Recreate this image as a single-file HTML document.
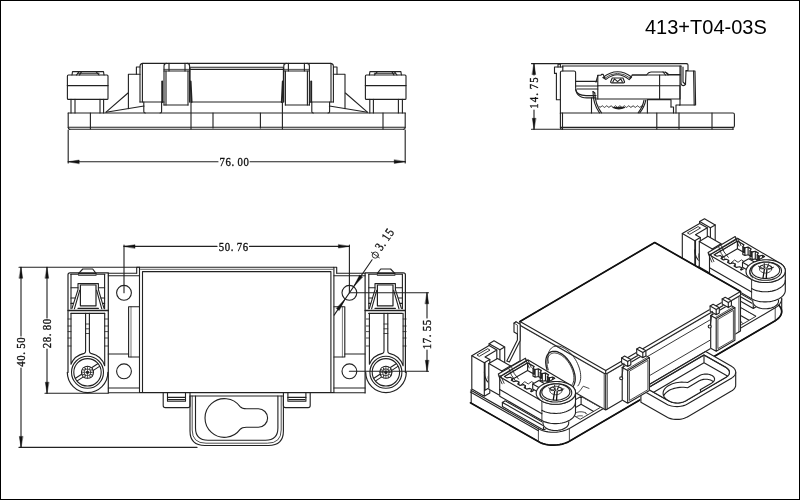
<!DOCTYPE html>
<html><head><meta charset="utf-8"><title>413+T04-03S</title>
<style>
html,body{margin:0;padding:0;background:#fff;}
body{width:800px;height:500px;overflow:hidden;position:relative;font-family:"Liberation Sans",sans-serif;}
.frame{position:absolute;left:0;top:0;width:798px;height:498px;border:1px solid #000;}
.title{position:absolute;left:645px;top:15.5px;font-size:20px;line-height:23px;color:#000;white-space:nowrap;}
svg{position:absolute;left:0;top:0;will-change:transform;}
svg *{vector-effect:none;}
.d{font-family:"Liberation Serif",serif;font-size:12.8px;fill:#111;stroke:#111;stroke-width:0.35;}
</style></head><body>
<svg width="800" height="500" viewBox="0 0 800 500" fill="none" stroke="#222" stroke-width="1.12" stroke-linecap="round" stroke-linejoin="round">
<g id="front">
<line x1="68.2" y1="113.0" x2="405.2" y2="113.0"/>
<line x1="68.2" y1="127.2" x2="405.2" y2="127.2"/>
<line x1="69.5" y1="129.2" x2="403.9" y2="129.2"/>
<line x1="143.0" y1="63.4" x2="330.4" y2="63.4"/>
<line x1="190.0" y1="67.2" x2="283.4" y2="67.2"/>
<line x1="190.0" y1="69.4" x2="283.4" y2="69.4"/>
<line x1="192.0" y1="102.0" x2="281.4" y2="102.0"/>
<path d="M68.2,113 V127.5 Q68.2,129.2 69.8,129.2"/>
<line x1="90.4" y1="113.0" x2="90.4" y2="129.0"/>
<line x1="191.0" y1="102.0" x2="191.0" y2="129.0"/>
<line x1="213.0" y1="113.0" x2="213.0" y2="128.0"/>
<rect x="67.4" y="75.0" width="40.6" height="24.4" rx="1"/>
<line x1="67.4" y1="85.6" x2="108.0" y2="85.6" stroke-width="1.4"/>
<polyline points="72.0,75.0 72.5,71.6 103.5,71.6 104.0,75.0"/>
<line x1="78.0" y1="73.2" x2="99.0" y2="73.2"/>
<line x1="76.5" y1="75.0" x2="79.0" y2="71.6"/>
<line x1="79.5" y1="75.0" x2="81.5" y2="71.6"/>
<line x1="96.0" y1="71.6" x2="99.0" y2="75.0"/>
<line x1="71.0" y1="99.4" x2="71.0" y2="113.0"/>
<line x1="75.0" y1="99.4" x2="75.0" y2="113.0"/>
<line x1="100.0" y1="99.4" x2="100.0" y2="113.0"/>
<line x1="103.6" y1="99.4" x2="103.6" y2="113.0"/>
<line x1="106.0" y1="112.2" x2="128.0" y2="93.0"/>
<line x1="106.0" y1="112.2" x2="144.0" y2="106.0"/>
<polyline points="128.4,108.6 128.4,74.2 140.0,74.2"/>
<polyline points="140.0,67.0 136.4,67.0 136.4,74.2"/>
<path d="M140.0,102 V66.5 Q140.0,63.4 143.0,63.4"/>
<line x1="142.4" y1="64.4" x2="142.4" y2="102.0"/>
<line x1="140.0" y1="102.0" x2="164.0" y2="102.0"/>
<path d="M143.8,102 V111.5 Q143.8,113 145.3,113 M161.6,102 V111.5 Q161.6,113 160.1,113"/>
<path d="M164.0,105 V66 Q164.0,63.4 166.5,63.4 M189.6,102 V66 Q189.6,63.4 187.0,63.4"/>
<line x1="164.0" y1="71.0" x2="189.6" y2="71.0"/>
<line x1="164.0" y1="69.4" x2="189.6" y2="69.4" stroke-width="0.8"/>
<line x1="166.0" y1="71.0" x2="166.0" y2="105.0"/>
<line x1="188.0" y1="71.0" x2="188.0" y2="105.0"/>
<line x1="164.0" y1="105.0" x2="188.0" y2="105.0"/>
<line x1="169.0" y1="63.4" x2="169.0" y2="71.0"/>
<line x1="185.0" y1="63.4" x2="185.0" y2="71.0"/>
<line x1="162.2" y1="81.4" x2="162.2" y2="102.0" stroke-width="1.9"/>
<polyline points="190.6,81.4 191.6,102.0" stroke-width="1.9"/>
<line x1="190.0" y1="68.0" x2="190.0" y2="102.0"/>
<path d="M405.2,113 V127.5 Q405.2,129.2 403.6,129.2"/>
<line x1="383.0" y1="113.0" x2="383.0" y2="129.0"/>
<line x1="282.4" y1="102.0" x2="282.4" y2="129.0"/>
<line x1="260.4" y1="113.0" x2="260.4" y2="128.0"/>
<rect x="365.4" y="75.0" width="40.6" height="24.4" rx="1"/>
<line x1="406.0" y1="85.6" x2="365.4" y2="85.6" stroke-width="1.4"/>
<polyline points="401.4,75.0 400.9,71.6 369.9,71.6 369.4,75.0"/>
<line x1="395.4" y1="73.2" x2="374.4" y2="73.2"/>
<line x1="396.9" y1="75.0" x2="394.4" y2="71.6"/>
<line x1="393.9" y1="75.0" x2="391.9" y2="71.6"/>
<line x1="377.4" y1="71.6" x2="374.4" y2="75.0"/>
<line x1="402.4" y1="99.4" x2="402.4" y2="113.0"/>
<line x1="398.4" y1="99.4" x2="398.4" y2="113.0"/>
<line x1="373.4" y1="99.4" x2="373.4" y2="113.0"/>
<line x1="369.8" y1="99.4" x2="369.8" y2="113.0"/>
<line x1="367.4" y1="112.2" x2="345.4" y2="93.0"/>
<line x1="367.4" y1="112.2" x2="329.4" y2="106.0"/>
<polyline points="345.0,108.6 345.0,74.2 333.4,74.2"/>
<polyline points="333.4,67.0 337.0,67.0 337.0,74.2"/>
<path d="M333.4,102 V66.5 Q333.4,63.4 330.4,63.4"/>
<line x1="331.0" y1="64.4" x2="331.0" y2="102.0"/>
<line x1="333.4" y1="102.0" x2="309.4" y2="102.0"/>
<path d="M329.6,102 V111.5 Q329.6,113 328.1,113 M311.8,102 V111.5 Q311.8,113 313.3,113"/>
<path d="M309.4,105 V66 Q309.4,63.4 306.9,63.4 M283.8,102 V66 Q283.8,63.4 286.4,63.4"/>
<line x1="309.4" y1="71.0" x2="283.8" y2="71.0"/>
<line x1="309.4" y1="69.4" x2="283.8" y2="69.4" stroke-width="0.8"/>
<line x1="307.4" y1="71.0" x2="307.4" y2="105.0"/>
<line x1="285.4" y1="71.0" x2="285.4" y2="105.0"/>
<line x1="309.4" y1="105.0" x2="285.4" y2="105.0"/>
<line x1="304.4" y1="63.4" x2="304.4" y2="71.0"/>
<line x1="288.4" y1="63.4" x2="288.4" y2="71.0"/>
<line x1="311.2" y1="81.4" x2="311.2" y2="102.0" stroke-width="1.9"/>
<polyline points="282.8,81.4 281.8,102.0" stroke-width="1.9"/>
<line x1="283.4" y1="68.0" x2="283.4" y2="102.0"/>
<line x1="68.2" y1="130.0" x2="68.2" y2="163.0"/>
<line x1="405.2" y1="130.0" x2="405.2" y2="163.0"/>
<line x1="68.2" y1="161.7" x2="218.0" y2="161.7"/>
<line x1="250.0" y1="161.7" x2="405.2" y2="161.7"/>
<polygon points="68.2,161.7 79.2,160.0 79.2,163.4" fill="#111" stroke="#111" stroke-width="0.4"/>
<polygon points="405.2,161.7 394.2,163.4 394.2,160.0" fill="#111" stroke="#111" stroke-width="0.4"/>
<text class="d" transform="translate(219.4,166.0) scale(0.84,1)" x="0.00 7.14 14.29 21.43 28.57" y="0">76.00</text>
</g>
<g id="side">
<line x1="559.0" y1="63.6" x2="686.5" y2="63.6"/>
<line x1="562.5" y1="66.0" x2="681.0" y2="66.0"/>
<polyline points="558.0,67.0 558.0,64.3 560.4,64.3 560.4,67.0"/>
<polyline points="562.8,67.0 554.5,67.0 554.5,73.4 556.4,73.4"/>
<line x1="562.8" y1="66.0" x2="562.8" y2="71.0"/>
<polyline points="556.4,73.4 556.4,99.8 560.4,99.8"/>
<path d="M560.4,113.2 V72.5 Q560.4,71 562,71 H574 Q575.6,71 575.6,72.5 V87 Q575.6,97.9 587,97.9 H596"/>
<path d="M575.6,89.5 Q577,95.5 586,95.6 H596"/>
<line x1="575.6" y1="81.4" x2="597.0" y2="81.4"/>
<line x1="575.6" y1="86.0" x2="597.8" y2="86.0"/>
<line x1="577.0" y1="89.0" x2="597.8" y2="89.0"/>
<path d="M596,82.2 L597,78.5 L598,75.2 H601 L601.6,74.4 L603.2,74.4 L604.8,78 M630,78 L632.5,75 H646.5 Q648.5,72 651,72 H663 Q667,72 668.5,74.5 H680"/>
<line x1="597.8" y1="75.2" x2="597.8" y2="99.0"/>
<path d="M602.8,77.6 Q617.2,66.2 631.6,77 L629.2,79.6 Q617.4,70 606,79.4 Z"/>
<path d="M604.4,78.4 Q617.3,68.2 630.4,78.2" stroke-width="0.8"/>
<path d="M610.6,82 L612.2,78 H623 L624.6,82 Q624.6,82.9 623.6,82.9 H611.6 Q610.6,82.9 610.6,82 Z"/>
<polyline points="612.8,82.0 614.5,78.8 617.6,81.6 620.7,78.8 622.4,82.0"/>
<line x1="597.8" y1="85.8" x2="680.0" y2="85.8"/>
<line x1="596.4" y1="99.0" x2="659.6" y2="99.0"/>
<line x1="659.6" y1="75.0" x2="659.6" y2="99.0"/>
<line x1="632.0" y1="75.0" x2="680.0" y2="75.0"/>
<polyline points="680.0,66.0 680.0,99.0 659.6,99.0"/>
<line x1="663.0" y1="72.0" x2="665.5" y2="75.0"/>
<line x1="665.5" y1="72.0" x2="668.0" y2="75.0"/>
<path d="M593,91.5 Q593,104 599.5,112.8"/>
<path d="M594.8,93 Q595,104 601.5,112.8"/>
<path d="M593,91.5 L594.8,93"/>
<path d="M645.8,100.2 Q644.5,107 639.8,112.8"/>
<path d="M644,100.2 Q642.8,107 638.2,112.8"/>
<path d="M599,106.6 q1.1,1.6 2.2,0 q1.1,-1.6 2.2,0 q1.1,1.6 2.2,0 q1.1,-1.6 2.2,0 q1.1,1.6 2.2,0 q1.1,-1.6 2.2,0 q1.1,1.6 2.2,0 q1.1,-1.6 2.2,0 q1.1,1.6 2.2,0 q1.1,-1.6 2.2,0 q1.1,1.6 2.2,0 q1.1,-1.6 2.2,0 q1.1,1.6 2.2,0 q1.1,-1.6 2.2,0 q1.1,1.6 2.2,0 q1.1,-1.6 2.2,0 q1.1,1.6 2.2,0 q1.1,-1.6 2.2,0 q1.1,1.6 2.2,0 q1.1,-1.6 2.2,0" stroke-width="0.9"/>
<path d="M613,107.6 Q618.8,110.4 624.6,107.6 Z" fill="#222"/>
<polyline points="647.4,113.0 647.4,99.6 671.0,99.6 671.0,107.0"/>
<polyline points="676.0,113.0 676.0,105.0 679.5,105.0"/>
<polyline points="671.0,107.0 673.5,107.0 673.5,113.0"/>
<path d="M686.5,63.6 Q688,63.6 688,65 V70.5 H686"/>
<polyline points="681.0,66.0 681.0,84.0"/>
<polyline points="683.0,67.0 683.0,82.0 685.5,84.5 686.0,71.0"/>
<path d="M681,84 Q682,86 684,85.5 L685.5,84.5"/>
<polyline points="686.0,71.0 695.0,71.0 695.6,105.0 679.5,105.0"/>
<line x1="693.6" y1="71.0" x2="694.2" y2="105.0"/>
<line x1="680.0" y1="86.0" x2="680.0" y2="105.0"/>
<path d="M560.4,113 H733 Q734.4,113 734.4,114.5 V126 Q734.4,127.4 733,127.4 H560.4"/>
<line x1="562.5" y1="129.3" x2="733.0" y2="129.3"/>
<path d="M560.4,113 V127.5 Q560.4,129.3 562.5,129.3"/>
<line x1="562.5" y1="113.0" x2="562.5" y2="129.0"/>
<line x1="591.5" y1="97.9" x2="591.5" y2="113.0"/>
<line x1="733.0" y1="127.4" x2="733.0" y2="129.3"/>
<line x1="656.8" y1="113.0" x2="656.8" y2="129.0"/>
<line x1="679.0" y1="113.0" x2="679.0" y2="129.0"/>
<line x1="712.0" y1="113.0" x2="712.0" y2="129.0"/>
<line x1="531.5" y1="63.6" x2="559.0" y2="63.6"/>
<line x1="531.5" y1="129.3" x2="561.0" y2="129.3"/>
<line x1="534.0" y1="63.6" x2="534.0" y2="75.0"/>
<line x1="534.0" y1="110.0" x2="534.0" y2="129.3"/>
<polygon points="534.0,63.6 535.7,74.6 532.3,74.6" fill="#111" stroke="#111" stroke-width="0.4"/>
<polygon points="534.0,129.3 532.3,118.3 535.7,118.3" fill="#111" stroke="#111" stroke-width="0.4"/>
<text class="d" transform="translate(538.0,108.8) rotate(-90) scale(0.84,1)" x="0.00 7.74 15.48 23.21 30.95" y="0">14.75</text>
</g>
<g id="plan">
<polyline points="139.5,392.5 139.5,267.3 333.9,267.3 333.9,392.5"/>
<polyline points="142.5,392.5 142.5,271.6 330.9,271.6 330.9,392.5"/>
<line x1="140.5" y1="269.3" x2="332.9" y2="269.3" stroke-width="0.7"/>
<line x1="139.5" y1="392.5" x2="333.9" y2="392.5"/>
<line x1="108.5" y1="392.8" x2="364.9" y2="392.8"/>
<polyline points="136.7,273.0 136.7,267.3 139.5,267.3"/>
<line x1="108.3" y1="273.2" x2="136.7" y2="273.2"/>
<line x1="108.3" y1="275.8" x2="139.5" y2="275.8"/>
<line x1="108.3" y1="354.0" x2="128.6" y2="354.0"/>
<line x1="108.3" y1="388.0" x2="139.5" y2="388.0"/>
<polyline points="139.5,306.8 128.6,306.8 128.6,357.0 139.5,357.0"/>
<line x1="131.0" y1="306.8" x2="131.0" y2="357.0" stroke-width="0.6"/>
<circle cx="124.0" cy="292.8" r="7.4"/>
<circle cx="124.0" cy="371.3" r="7.4"/>
<path d="M108.3,393 V272.8 H70.0 Q68.0,272.8 68.0,274.8 V372.5" stroke-width="1.2"/>
<polyline points="71.0,274.2 71.0,308.8"/>
<polyline points="104.6,274.2 104.6,308.8"/>
<line x1="71.0" y1="274.2" x2="78.6" y2="274.2"/>
<line x1="96.0" y1="274.2" x2="104.6" y2="274.2"/>
<polyline points="78.6,273.4 82.8,269.0 92.7,269.0 96.0,273.4"/>
<line x1="78.6" y1="273.6" x2="96.0" y2="273.6" stroke-width="1.3"/>
<line x1="78.6" y1="275.2" x2="96.0" y2="275.2"/>
<polyline points="72.0,308.4 78.0,289.6 78.0,283.6 98.4,283.6 98.4,289.6 104.0,308.4"/>
<polyline points="80.4,305.8 80.4,285.0 96.0,285.0 96.0,305.8 80.4,305.8" stroke-width="1.2"/>
<line x1="71.0" y1="287.8" x2="78.0" y2="287.8"/>
<line x1="98.4" y1="287.8" x2="104.6" y2="287.8"/>
<line x1="79.8" y1="290.2" x2="74.4" y2="308.8"/>
<line x1="96.6" y1="290.2" x2="101.8" y2="308.8"/>
<line x1="71.0" y1="298.0" x2="75.0" y2="298.0"/>
<line x1="71.0" y1="303.4" x2="73.4" y2="303.4"/>
<line x1="104.6" y1="298.0" x2="101.0" y2="298.0"/>
<line x1="104.6" y1="303.4" x2="103.0" y2="303.4"/>
<line x1="78.0" y1="308.4" x2="98.4" y2="308.4"/>
<line x1="68.0" y1="310.5" x2="108.3" y2="310.5" stroke-width="1.3"/>
<line x1="71.0" y1="313.4" x2="104.7" y2="313.4"/>
<polyline points="336.7,273.0 336.7,267.3 333.9,267.3"/>
<line x1="365.1" y1="273.2" x2="336.7" y2="273.2"/>
<line x1="365.1" y1="275.8" x2="333.9" y2="275.8"/>
<line x1="365.1" y1="354.0" x2="344.8" y2="354.0"/>
<line x1="365.1" y1="388.0" x2="333.9" y2="388.0"/>
<polyline points="333.9,306.8 344.8,306.8 344.8,357.0 333.9,357.0"/>
<line x1="342.4" y1="306.8" x2="342.4" y2="357.0" stroke-width="0.6"/>
<circle cx="349.4" cy="292.8" r="7.4"/>
<circle cx="349.4" cy="371.3" r="7.4"/>
<path d="M365.1,393 V272.8 H403.4 Q405.4,272.8 405.4,274.8 V372.5" stroke-width="1.2"/>
<polyline points="402.4,274.2 402.4,308.8"/>
<polyline points="368.8,274.2 368.8,308.8"/>
<line x1="402.4" y1="274.2" x2="394.8" y2="274.2"/>
<line x1="377.4" y1="274.2" x2="368.8" y2="274.2"/>
<polyline points="394.8,273.4 390.6,269.0 380.7,269.0 377.4,273.4"/>
<line x1="394.8" y1="273.6" x2="377.4" y2="273.6" stroke-width="1.3"/>
<line x1="394.8" y1="275.2" x2="377.4" y2="275.2"/>
<polyline points="401.4,308.4 395.4,289.6 395.4,283.6 375.0,283.6 375.0,289.6 369.4,308.4"/>
<polyline points="393.0,305.8 393.0,285.0 377.4,285.0 377.4,305.8 393.0,305.8" stroke-width="1.2"/>
<line x1="402.4" y1="287.8" x2="395.4" y2="287.8"/>
<line x1="375.0" y1="287.8" x2="368.8" y2="287.8"/>
<line x1="393.6" y1="290.2" x2="399.0" y2="308.8"/>
<line x1="376.8" y1="290.2" x2="371.6" y2="308.8"/>
<line x1="402.4" y1="298.0" x2="398.4" y2="298.0"/>
<line x1="402.4" y1="303.4" x2="400.0" y2="303.4"/>
<line x1="368.8" y1="298.0" x2="372.4" y2="298.0"/>
<line x1="368.8" y1="303.4" x2="370.4" y2="303.4"/>
<line x1="395.4" y1="308.4" x2="375.0" y2="308.4"/>
<line x1="405.4" y1="310.5" x2="365.1" y2="310.5" stroke-width="1.3"/>
<line x1="402.4" y1="313.4" x2="368.7" y2="313.4"/>
<path d="M67.3,372.3 A20.2,20.2 0 0 0 107.9,372.3" stroke-width="1.2"/>
<path d="M71.0,313.4 V364.2 A18.4,18.4 0 0 1 84.1,353.4 Q85.6,353.0 85.6,351.0 V313.4"/>
<path d="M104.7,313.4 V365.8 A18.4,18.4 0 0 0 90.9,353.4 Q89.4,353.0 89.4,351.0 V313.4"/>
<line x1="68.0" y1="319.0" x2="71.0" y2="319.0" stroke-width="0.8"/>
<line x1="104.7" y1="319.0" x2="107.8" y2="319.0" stroke-width="0.8"/>
<line x1="68.0" y1="326.0" x2="71.0" y2="326.0" stroke-width="0.8"/>
<line x1="104.7" y1="326.0" x2="107.8" y2="326.0" stroke-width="0.8"/>
<line x1="68.0" y1="331.6" x2="71.0" y2="331.6" stroke-width="0.8"/>
<line x1="104.7" y1="331.6" x2="107.8" y2="331.6" stroke-width="0.8"/>
<line x1="68.0" y1="338.0" x2="71.0" y2="338.0" stroke-width="0.8"/>
<line x1="104.7" y1="338.0" x2="107.8" y2="338.0" stroke-width="0.8"/>
<line x1="68.0" y1="346.0" x2="71.0" y2="346.0" stroke-width="0.8"/>
<line x1="104.7" y1="346.0" x2="107.8" y2="346.0" stroke-width="0.8"/>
<line x1="85.6" y1="324.0" x2="89.4" y2="324.0" stroke-width="0.8"/>
<line x1="85.6" y1="328.8" x2="89.4" y2="328.8" stroke-width="0.8"/>
<line x1="85.6" y1="333.5" x2="89.4" y2="333.5" stroke-width="0.8"/>
<circle cx="87.5" cy="372.3" r="16.0" stroke-width="1.1"/>
<circle cx="87.5" cy="372.3" r="13.7"/>
<line x1="93.0" y1="370.6" x2="99.5" y2="366.4"/>
<line x1="91.2" y1="368.0" x2="97.8" y2="363.7"/>
<line x1="83.8" y1="376.6" x2="77.2" y2="380.9"/>
<line x1="82.0" y1="374.0" x2="75.5" y2="378.2"/>
<circle cx="87.5" cy="372.3" r="6.0"/>
<circle cx="87.5" cy="372.3" r="3.4" stroke-width="0.8"/>
<circle cx="91.0" cy="375.8" r="1.4" fill="#fff" stroke-width="0.8"/>
<circle cx="84.0" cy="375.8" r="1.4" fill="#fff" stroke-width="0.8"/>
<circle cx="84.0" cy="368.8" r="1.4" fill="#fff" stroke-width="0.8"/>
<circle cx="91.0" cy="368.8" r="1.4" fill="#fff" stroke-width="0.8"/>
<line x1="81.5" y1="372.3" x2="93.5" y2="372.3" stroke-width="0.7"/>
<line x1="87.5" y1="366.3" x2="87.5" y2="378.3" stroke-width="0.7"/>
<circle cx="87.5" cy="372.3" r="1.1" fill="#222"/>
<path d="M365.7,372.3 A20.2,20.2 0 0 0 406.3,372.3" stroke-width="1.2"/>
<path d="M369.4,313.4 V364.2 A18.4,18.4 0 0 1 382.5,353.4 Q384.0,353.0 384.0,351.0 V313.4"/>
<path d="M403.1,313.4 V365.8 A18.4,18.4 0 0 0 389.3,353.4 Q387.8,353.0 387.8,351.0 V313.4"/>
<line x1="366.4" y1="319.0" x2="369.4" y2="319.0" stroke-width="0.8"/>
<line x1="403.1" y1="319.0" x2="406.2" y2="319.0" stroke-width="0.8"/>
<line x1="366.4" y1="326.0" x2="369.4" y2="326.0" stroke-width="0.8"/>
<line x1="403.1" y1="326.0" x2="406.2" y2="326.0" stroke-width="0.8"/>
<line x1="366.4" y1="331.6" x2="369.4" y2="331.6" stroke-width="0.8"/>
<line x1="403.1" y1="331.6" x2="406.2" y2="331.6" stroke-width="0.8"/>
<line x1="366.4" y1="338.0" x2="369.4" y2="338.0" stroke-width="0.8"/>
<line x1="403.1" y1="338.0" x2="406.2" y2="338.0" stroke-width="0.8"/>
<line x1="366.4" y1="346.0" x2="369.4" y2="346.0" stroke-width="0.8"/>
<line x1="403.1" y1="346.0" x2="406.2" y2="346.0" stroke-width="0.8"/>
<line x1="384.0" y1="324.0" x2="387.8" y2="324.0" stroke-width="0.8"/>
<line x1="384.0" y1="328.8" x2="387.8" y2="328.8" stroke-width="0.8"/>
<line x1="384.0" y1="333.5" x2="387.8" y2="333.5" stroke-width="0.8"/>
<circle cx="385.9" cy="372.3" r="16.0" stroke-width="1.1"/>
<circle cx="385.9" cy="372.3" r="13.7"/>
<line x1="391.4" y1="370.6" x2="397.9" y2="366.4"/>
<line x1="389.6" y1="368.0" x2="396.2" y2="363.7"/>
<line x1="382.2" y1="376.6" x2="375.6" y2="380.9"/>
<line x1="380.4" y1="374.0" x2="373.9" y2="378.2"/>
<circle cx="385.9" cy="372.3" r="6.0"/>
<circle cx="385.9" cy="372.3" r="3.4" stroke-width="0.8"/>
<circle cx="389.4" cy="375.8" r="1.4" fill="#fff" stroke-width="0.8"/>
<circle cx="382.4" cy="375.8" r="1.4" fill="#fff" stroke-width="0.8"/>
<circle cx="382.4" cy="368.8" r="1.4" fill="#fff" stroke-width="0.8"/>
<circle cx="389.4" cy="368.8" r="1.4" fill="#fff" stroke-width="0.8"/>
<line x1="379.9" y1="372.3" x2="391.9" y2="372.3" stroke-width="0.7"/>
<line x1="385.9" y1="366.3" x2="385.9" y2="378.3" stroke-width="0.7"/>
<circle cx="385.9" cy="372.3" r="1.1" fill="#222"/>
<path d="M163.2,392.8 V405.5 Q163.2,407.6 165.3,407.6 H188.0 Q190.0,407.6 190.0,405.5 V392.8"/>
<polyline points="167.5,392.8 167.5,401.2 185.5,401.2 185.5,392.8"/>
<line x1="167.5" y1="397.4" x2="185.5" y2="397.4"/>
<line x1="168.5" y1="399.6" x2="184.5" y2="399.6"/>
<path d="M310.2,392.8 V405.5 Q310.2,407.6 308.1,407.6 H285.4 Q283.4,407.6 283.4,405.5 V392.8"/>
<polyline points="305.9,392.8 305.9,401.2 287.9,401.2 287.9,392.8"/>
<line x1="305.9" y1="397.4" x2="287.9" y2="397.4"/>
<line x1="304.9" y1="399.6" x2="288.9" y2="399.6"/>
<line x1="190.0" y1="396.0" x2="283.4" y2="396.0"/>
<path d="M190,396 V431 Q190,445.5 205,445.5 H268.4 Q283.4,445.5 283.4,431 V396"/>
<path d="M192.2,396 V430 Q192.2,443.2 206,443.2 H267.4 Q281.2,443.2 281.2,430 V396" stroke-width="0.8"/>
<path d="M195.5,396 V428 Q195.5,440.2 208,440.2 H265.4 Q277.9,440.2 277.9,428 V396"/>
<path d="M240.1,406.6 A19.4,19.4 0 1 0 240.1,429.4 Q242.0,427.2 246.4,427.2 H258.4 A9.2,9.2 0 0 0 258.4,408.8 H246.4 Q242.0,408.8 240.1,406.6 Z"/>
<line x1="124.0" y1="245.0" x2="124.0" y2="292.8"/>
<line x1="349.4" y1="245.0" x2="349.4" y2="292.8"/>
<line x1="124.0" y1="246.4" x2="217.0" y2="246.4"/>
<line x1="249.5" y1="246.4" x2="349.4" y2="246.4"/>
<polygon points="124.0,246.4 135.0,244.7 135.0,248.1" fill="#111" stroke="#111" stroke-width="0.4"/>
<polygon points="349.4,246.4 338.4,248.1 338.4,244.7" fill="#111" stroke="#111" stroke-width="0.4"/>
<text class="d" transform="translate(218.8,250.6) scale(0.84,1)" x="0.00 7.14 14.29 21.43 28.57" y="0">50.76</text>
<line x1="19.0" y1="267.3" x2="139.5" y2="267.3"/>
<line x1="45.0" y1="393.2" x2="108.0" y2="393.2"/>
<line x1="19.0" y1="447.4" x2="197.0" y2="447.4"/>
<line x1="21.0" y1="267.3" x2="21.0" y2="336.0"/>
<line x1="21.0" y1="368.0" x2="21.0" y2="447.4"/>
<polygon points="21.0,267.3 22.7,278.3 19.3,278.3" fill="#111" stroke="#111" stroke-width="0.4"/>
<polygon points="21.0,447.4 19.3,436.4 22.7,436.4" fill="#111" stroke="#111" stroke-width="0.4"/>
<text class="d" transform="translate(25.3,366.8) rotate(-90) scale(0.84,1)" x="0.00 7.14 14.29 21.43 28.57" y="0">40.50</text>
<line x1="47.0" y1="267.3" x2="47.0" y2="318.0"/>
<line x1="47.0" y1="349.0" x2="47.0" y2="393.2"/>
<polygon points="47.0,267.3 48.7,278.3 45.3,278.3" fill="#111" stroke="#111" stroke-width="0.4"/>
<polygon points="47.0,393.2 45.3,382.2 48.7,382.2" fill="#111" stroke="#111" stroke-width="0.4"/>
<text class="d" transform="translate(51.3,348.2) rotate(-90) scale(0.84,1)" x="0.00 7.14 14.29 21.43 28.57" y="0">28.80</text>
<line x1="349.4" y1="292.8" x2="428.5" y2="292.8"/>
<line x1="349.4" y1="371.3" x2="428.5" y2="371.3"/>
<line x1="427.0" y1="292.8" x2="427.0" y2="318.0"/>
<line x1="427.0" y1="350.0" x2="427.0" y2="371.3"/>
<polygon points="427.0,292.8 428.7,303.8 425.3,303.8" fill="#111" stroke="#111" stroke-width="0.4"/>
<polygon points="427.0,371.3 425.3,360.3 428.7,360.3" fill="#111" stroke="#111" stroke-width="0.4"/>
<text class="d" transform="translate(431.2,349.2) rotate(-90) scale(0.84,1)" x="0.00 7.14 14.29 21.43 28.57" y="0">17.55</text>
<line x1="334.1" y1="315.1" x2="372.1" y2="259.8"/>
<polygon points="353.6,286.7 359.6,275.0 362.4,277.0" fill="#111" stroke="#111" stroke-width="0.4"/>
<polygon points="345.2,298.9 339.2,310.6 336.4,308.6" fill="#111" stroke="#111" stroke-width="0.4"/>
<circle cx="375.3" cy="255.1" r="3.1" stroke-width="0.9"/>
<line x1="371.4" y1="252.3" x2="379.3" y2="257.8" stroke-width="0.9"/>
<text class="d" transform="translate(381.3,251.6) rotate(-55.5) scale(0.84,1)" x="0 7.14 14.28 21.42" y="0">3.15</text>
</g>
<g id="iso">
<polygon points="781.7,298.8 781.5,300.4 781.5,313.3 781.7,311.6" fill="#fff" stroke="#fff" stroke-width="1.1" stroke-linejoin="round"/>
<polygon points="781.5,300.4 780.9,302.0 780.9,314.9 781.5,313.3" fill="#fff" stroke="#fff" stroke-width="1.1" stroke-linejoin="round"/>
<polygon points="780.9,302.0 780.0,303.6 780.0,316.5 780.9,314.9" fill="#fff" stroke="#fff" stroke-width="1.1" stroke-linejoin="round"/>
<polygon points="780.0,303.6 778.7,305.1 778.7,318.0 780.0,316.5" fill="#fff" stroke="#fff" stroke-width="1.1" stroke-linejoin="round"/>
<polygon points="778.7,305.1 777.1,306.5 777.1,319.4 778.7,318.0" fill="#fff" stroke="#fff" stroke-width="1.1" stroke-linejoin="round"/>
<polygon points="777.1,306.5 775.2,307.8 775.2,320.7 777.1,319.4" fill="#fff" stroke="#fff" stroke-width="1.1" stroke-linejoin="round"/>
<polygon points="775.2,307.8 569.4,428.4 569.4,441.3 775.2,320.7" fill="#fff" stroke="#fff" stroke-width="1.1" stroke-linejoin="round"/>
<polygon points="471.2,390.1 471.2,389.9 471.2,402.8 471.2,402.9" fill="#fff" stroke="#fff" stroke-width="1.1" stroke-linejoin="round"/>
<polygon points="471.3,390.2 471.2,390.1 471.2,402.9 471.3,403.1" fill="#fff" stroke="#fff" stroke-width="1.1" stroke-linejoin="round"/>
<polygon points="471.4,390.3 471.3,390.2 471.3,403.1 471.4,403.2" fill="#fff" stroke="#fff" stroke-width="1.1" stroke-linejoin="round"/>
<polygon points="471.5,390.5 471.4,390.3 471.4,403.2 471.5,403.4" fill="#fff" stroke="#fff" stroke-width="1.1" stroke-linejoin="round"/>
<polygon points="471.6,390.6 471.5,390.5 471.5,403.4 471.6,403.5" fill="#fff" stroke="#fff" stroke-width="1.1" stroke-linejoin="round"/>
<polygon points="471.8,390.7 471.6,390.6 471.6,403.5 471.8,403.6" fill="#fff" stroke="#fff" stroke-width="1.1" stroke-linejoin="round"/>
<polygon points="538.4,428.7 471.8,390.7 471.8,403.6 538.4,441.6" fill="#fff" stroke="#fff" stroke-width="1.1" stroke-linejoin="round"/>
<polygon points="540.5,429.8 538.4,428.7 538.4,441.6 540.5,442.7" fill="#fff" stroke="#fff" stroke-width="1.1" stroke-linejoin="round"/>
<polygon points="569.4,428.4 567.2,429.5 567.2,442.4 569.4,441.3" fill="#fff" stroke="#fff" stroke-width="1.1" stroke-linejoin="round"/>
<polygon points="542.9,430.7 540.5,429.8 540.5,442.7 542.9,443.6" fill="#fff" stroke="#fff" stroke-width="1.1" stroke-linejoin="round"/>
<polygon points="567.2,429.5 564.8,430.4 564.8,443.3 567.2,442.4" fill="#fff" stroke="#fff" stroke-width="1.1" stroke-linejoin="round"/>
<polygon points="545.5,431.4 542.9,430.7 542.9,443.6 545.5,444.3" fill="#fff" stroke="#fff" stroke-width="1.1" stroke-linejoin="round"/>
<polygon points="564.8,430.4 562.2,431.2 562.2,444.1 564.8,443.3" fill="#fff" stroke="#fff" stroke-width="1.1" stroke-linejoin="round"/>
<polygon points="548.2,431.9 545.5,431.4 545.5,444.3 548.2,444.8" fill="#fff" stroke="#fff" stroke-width="1.1" stroke-linejoin="round"/>
<polygon points="562.2,431.2 559.5,431.8 559.5,444.6 562.2,444.1" fill="#fff" stroke="#fff" stroke-width="1.1" stroke-linejoin="round"/>
<polygon points="551.0,432.2 548.2,431.9 548.2,444.8 551.0,445.1" fill="#fff" stroke="#fff" stroke-width="1.1" stroke-linejoin="round"/>
<polygon points="559.5,431.8 556.7,432.1 556.7,445.0 559.5,444.6" fill="#fff" stroke="#fff" stroke-width="1.1" stroke-linejoin="round"/>
<polygon points="553.8,432.3 551.0,432.2 551.0,445.1 553.8,445.1" fill="#fff" stroke="#fff" stroke-width="1.1" stroke-linejoin="round"/>
<polygon points="556.7,432.1 553.8,432.3 553.8,445.1 556.7,445.0" fill="#fff" stroke="#fff" stroke-width="1.1" stroke-linejoin="round"/>
<path d="M471.8,403.6L471.6,403.5 M471.6,403.5L471.5,403.4 M471.5,403.4L471.4,403.2 M471.4,403.2L471.3,403.1 M471.3,403.1L471.2,402.9 M471.2,402.9L471.2,402.8 M781.7,311.6L781.5,313.3 M781.5,313.3L780.9,314.9 M780.9,314.9L780.0,316.5 M780.0,316.5L778.7,318.0 M778.7,318.0L777.1,319.4 M777.1,319.4L775.2,320.7 M775.2,320.7L569.4,441.3 M569.4,441.3L567.2,442.4 M567.2,442.4L564.8,443.3 M564.8,443.3L562.2,444.1 M562.2,444.1L559.5,444.6 M559.5,444.6L556.7,445.0 M556.7,445.0L553.8,445.1 M553.8,445.1L551.0,445.1 M551.0,445.1L548.2,444.8 M548.2,444.8L545.5,444.3 M545.5,444.3L542.9,443.6 M542.9,443.6L540.5,442.7 M540.5,442.7L538.4,441.6 M538.4,441.6L471.8,403.6 M471.2,402.8L471.2,389.9 M781.7,311.6L781.7,298.8"/>
<path d="M471.8,390.7 L471.6,390.6 L471.5,390.5 L471.4,390.3 L471.3,390.2 L471.2,390.1 L471.2,389.9 L471.2,389.8 L471.3,389.6 L471.4,389.5 L471.5,389.4 L471.6,389.2 L471.8,389.1 L706.0,251.9 L706.2,251.8 L706.4,251.7 L706.7,251.6 L706.9,251.6 L707.2,251.6 L707.4,251.5 L707.7,251.5 L707.9,251.6 L708.2,251.6 L708.4,251.7 L708.6,251.8 L708.8,251.9 L775.4,289.9 L777.3,291.1 L778.8,292.5 L780.1,293.9 L781.0,295.5 L781.5,297.1 L781.7,298.8 L781.5,300.4 L780.9,302.0 L780.0,303.6 L778.7,305.1 L777.1,306.5 L775.2,307.8 L569.4,428.4 L567.2,429.5 L564.8,430.4 L562.2,431.2 L559.5,431.8 L556.7,432.1 L553.8,432.3 L551.0,432.2 L548.2,431.9 L545.5,431.4 L542.9,430.7 L540.5,429.8 L538.4,428.7Z" fill="#fff" fill-rule="evenodd"/>
<polyline points="470.4,402.8 538.4,441.6 538.4,441.6 540.5,442.7 542.9,443.6 545.5,444.3 548.2,444.8 551.0,445.1 553.8,445.1 556.7,445.0 559.5,444.6 562.2,444.1 564.8,443.3 567.2,442.4 569.4,441.3 775.2,320.7 775.2,320.7 777.1,319.4 778.7,318.0 780.0,316.5 780.9,314.9 781.5,313.3 781.7,311.6 781.5,310.0 781.0,308.4 780.1,306.8 778.8,305.3" stroke-width="1.7" stroke="#111"/>
<polyline points="470.4,392.0 538.4,430.8"/>
<line x1="538.4" y1="441.6" x2="538.4" y2="428.7" stroke-width="0.8"/>
<line x1="569.4" y1="441.3" x2="569.4" y2="428.4" stroke-width="0.8"/>
<line x1="775.2" y1="320.7" x2="775.2" y2="307.8" stroke-width="0.8"/>
<clipPath id="pk0"><polygon points="561.0,407.9 581.1,396.2 600.6,407.3 580.5,419.1"/></clipPath>
<g clip-path="url(#pk0)">
<polygon points="561.0,407.9 581.1,396.2 600.6,407.3 580.5,419.1" fill="#fff" stroke="none"/>
<polygon points="581.1,396.2 600.6,407.3 600.6,415.4 581.1,404.3" fill="#fff" stroke="#fff" stroke-width="1.1" stroke-linejoin="round"/>
<polygon points="561.0,407.9 581.1,396.2 581.1,404.3 561.0,416.1" fill="#fff" stroke="#fff" stroke-width="1.1" stroke-linejoin="round"/>
<path d="M561.0,416.1L581.1,404.3 M561.0,407.9L581.1,396.2 M581.1,404.3L600.6,415.4 M581.1,396.2L600.6,407.3 M561.0,416.1L561.0,407.9 M581.1,404.3L581.1,396.2 M600.6,415.4L600.6,407.3"/>
<polyline points="585.6,413.0 586.1,413.3 586.5,413.6 586.9,414.0 587.2,414.4 587.4,414.8 587.6,415.2 587.7,415.6 587.7,416.0 587.6,416.5 587.5,416.9 587.2,417.3 586.9,417.7 586.6,418.1 586.2,418.4 585.7,418.8 585.1,419.1 584.5,419.3 583.9,419.6 583.2,419.8 582.5,419.9 581.8,420.0 581.1,420.1 580.3,420.1 579.6,420.1 578.9,420.1 578.2,419.9 577.5,419.8 576.8,419.6 576.2,419.4 575.6,419.1 575.1,418.8 574.6,418.5 574.2,418.1 573.9,417.8 573.6,417.4 573.4,416.9 573.3,416.5 573.3,416.1 573.3,415.7 573.4,415.2 573.6,414.8 573.8,414.4 574.2,414.0 574.6,413.7 575.0,413.3 575.5,413.0 576.1,412.7 576.7,412.5 577.4,412.2 578.1,412.1 578.8,411.9 579.5,411.8 580.2,411.8 581.0,411.8 581.7,411.8 582.4,411.9 583.1,412.1 583.8,412.2 584.5,412.4 585.1,412.7 585.6,413.0" stroke-width="0.9"/>
<polyline points="575.3,422.9 574.9,422.6 574.4,422.3 574.1,421.9 573.8,421.6 573.5,421.2 573.4,420.8 573.3,420.4 573.3,419.9 573.3,419.5 573.4,419.1 573.6,418.7 573.9,418.3 574.2,417.9 574.6,417.6 575.1,417.2 575.6,416.9 576.2,416.7 576.8,416.4 577.4,416.2 578.1,416.0 578.8,415.9 579.5,415.8 580.2,415.8 580.9,415.8 581.7,415.8 582.4,415.9" stroke-width="0.8"/>
</g>
<polygon points="561.0,407.9 581.1,396.2 600.6,407.3 580.5,419.1" fill="none" stroke-width="0.9"/>
<clipPath id="pk1"><polygon points="716.5,316.8 736.6,305.1 756.1,316.2 736.0,328.0"/></clipPath>
<g clip-path="url(#pk1)">
<polygon points="716.5,316.8 736.6,305.1 756.1,316.2 736.0,328.0" fill="#fff" stroke="none"/>
<polygon points="736.6,305.1 756.1,316.2 756.1,324.3 736.6,313.2" fill="#fff" stroke="#fff" stroke-width="1.1" stroke-linejoin="round"/>
<polygon points="716.5,316.8 736.6,305.1 736.6,313.2 716.5,325.0" fill="#fff" stroke="#fff" stroke-width="1.1" stroke-linejoin="round"/>
<path d="M716.5,325.0L736.6,313.2 M716.5,316.8L736.6,305.1 M736.6,313.2L756.1,324.3 M736.6,305.1L756.1,316.2 M716.5,325.0L716.5,316.8 M736.6,313.2L736.6,305.1 M756.1,324.3L756.1,316.2"/>
<polyline points="741.1,321.9 741.6,322.2 742.0,322.5 742.4,322.9 742.7,323.3 742.9,323.7 743.1,324.1 743.2,324.5 743.2,324.9 743.1,325.4 743.0,325.8 742.7,326.2 742.5,326.6 742.1,327.0 741.7,327.3 741.2,327.7 740.6,328.0 740.0,328.2 739.4,328.5 738.7,328.7 738.0,328.8 737.3,328.9 736.6,329.0 735.8,329.0 735.1,329.0 734.4,328.9 733.7,328.8 733.0,328.7 732.3,328.5 731.7,328.3 731.1,328.0 730.6,327.7 730.1,327.4 729.7,327.0 729.4,326.6 729.1,326.3 728.9,325.8 728.8,325.4 728.8,325.0 728.8,324.6 728.9,324.1 729.1,323.7 729.4,323.3 729.7,322.9 730.1,322.6 730.5,322.2 731.0,321.9 731.6,321.6 732.2,321.4 732.9,321.1 733.6,321.0 734.3,320.8 735.0,320.7 735.7,320.7 736.5,320.7 737.2,320.7 737.9,320.8 738.7,320.9 739.3,321.1 740.0,321.3 740.6,321.6 741.1,321.9" stroke-width="0.9"/>
<polyline points="730.9,331.8 730.4,331.5 729.9,331.2 729.6,330.8 729.3,330.5 729.0,330.1 728.9,329.7 728.8,329.2 728.8,328.8 728.8,328.4 729.0,328.0 729.2,327.6 729.4,327.2 729.8,326.8 730.2,326.5 730.6,326.1 731.1,325.8 731.7,325.5 732.3,325.3 732.9,325.1 733.6,324.9 734.3,324.8 735.0,324.7 735.7,324.7 736.5,324.7 737.2,324.7 737.9,324.8" stroke-width="0.8"/>
</g>
<polygon points="716.5,316.8 736.6,305.1 756.1,316.2 736.0,328.0" fill="none" stroke-width="0.9"/>
<g transform="translate(4.1,-1.2)">
<polygon points="706.3,228.9 695.5,222.8 695.5,258.1 706.3,264.2" fill="#fff" stroke="#fff" stroke-width="1.1" stroke-linejoin="round"/>
<polygon points="711.1,226.1 706.3,228.9 706.3,264.2 711.1,261.4" fill="#fff" stroke="#fff" stroke-width="1.1" stroke-linejoin="round"/>
<path d="M711.1,261.4L706.3,264.2 M706.3,264.2L695.5,258.1 M695.5,258.1L695.5,222.8 M711.1,261.4L711.1,226.1 M706.3,264.2L706.3,228.9"/>
<path d="M695.5,222.8 L700.4,219.9 L711.1,226.1 L706.3,228.9Z" fill="#fff" fill-rule="evenodd"/>
<polygon points="703.2,229.0 691.4,235.9 691.4,269.3 703.2,262.4" fill="#fff" stroke="#fff" stroke-width="1.1" stroke-linejoin="round"/>
<polygon points="690.7,241.9 678.2,234.8 678.2,268.2 690.7,275.3" fill="#fff" stroke="#fff" stroke-width="1.1" stroke-linejoin="round"/>
<polygon points="696.2,238.7 690.7,241.9 690.7,275.3 696.2,272.1" fill="#fff" stroke="#fff" stroke-width="1.1" stroke-linejoin="round"/>
<path d="M703.2,262.4L691.4,269.3 M696.2,272.1L690.7,275.3 M690.7,275.3L678.2,268.2 M678.2,268.2L678.2,234.8 M703.2,262.4L703.2,229.0 M691.4,269.3L691.4,235.9 M696.2,272.1L696.2,238.7 M690.7,275.3L690.7,241.9"/>
<path d="M678.2,234.8 L695.5,224.7 L703.2,229.0 L691.4,235.9 L696.2,238.7 L690.7,241.9Z" fill="#fff" fill-rule="evenodd"/>
<polygon points="683.6,233.9 694.0,227.8 696.4,229.2 686.0,235.3" fill="none" stroke-width="0.9"/>
<path d="M690.7,251.1 Q690.4,261.1 700.4,265.6" />
<ellipse cx="697.9" cy="258.1" rx="3.2" ry="4.8" transform="rotate(-25 697.9 258.1)" stroke-width="0.9"/>
<ellipse cx="697.9" cy="258.1" rx="1.7" ry="2.8" transform="rotate(-25 697.9 258.1)" stroke-width="0.8"/>
<polygon points="708.2,250.1 695.2,242.6 695.2,268.3 708.2,275.7" fill="#fff" stroke="#fff" stroke-width="1.1" stroke-linejoin="round"/>
<polygon points="716.9,245.0 708.2,250.1 708.2,275.7 716.9,270.7" fill="#fff" stroke="#fff" stroke-width="1.1" stroke-linejoin="round"/>
<path d="M716.9,270.7L708.2,275.7 M708.2,275.7L695.2,268.3 M695.2,268.3L695.2,242.6 M716.9,270.7L716.9,245.0 M708.2,275.7L708.2,250.1"/>
<path d="M695.2,242.6 L703.9,237.5 L716.9,245.0 L708.2,250.1Z" fill="#fff" fill-rule="evenodd"/>
<polygon points="749.2,305.3 708.1,281.9 708.1,286.1 749.2,309.6" fill="#fff" stroke="#fff" stroke-width="1.1" stroke-linejoin="round"/>
<polygon points="752.0,303.7 749.2,305.3 749.2,309.6 752.0,307.9" fill="#fff" stroke="#fff" stroke-width="1.1" stroke-linejoin="round"/>
<path d="M752.0,307.9L749.2,309.6 M749.2,309.6L708.1,286.1 M708.1,286.1L708.1,281.9 M752.0,307.9L752.0,303.7 M749.2,309.6L749.2,305.3"/>
<path d="M708.1,281.9 L710.9,280.3 L752.0,303.7 L749.2,305.3Z" fill="#fff" fill-rule="evenodd"/>
<polygon points="748.8,292.8 748.7,292.0 748.7,302.8 748.8,303.6" fill="#fff" stroke="#fff" stroke-width="1.1" stroke-linejoin="round"/>
<polygon points="774.4,291.9 774.3,292.7 774.3,303.5 774.4,302.7" fill="#fff" stroke="#fff" stroke-width="1.1" stroke-linejoin="round"/>
<polygon points="749.0,293.5 748.8,292.8 748.8,303.6 749.0,304.3" fill="#fff" stroke="#fff" stroke-width="1.1" stroke-linejoin="round"/>
<polygon points="774.3,292.7 774.0,293.4 774.0,304.2 774.3,303.5" fill="#fff" stroke="#fff" stroke-width="1.1" stroke-linejoin="round"/>
<polygon points="749.3,294.2 749.0,293.5 749.0,304.3 749.3,305.1" fill="#fff" stroke="#fff" stroke-width="1.1" stroke-linejoin="round"/>
<polygon points="774.0,293.4 773.6,294.2 773.6,305.0 774.0,304.2" fill="#fff" stroke="#fff" stroke-width="1.1" stroke-linejoin="round"/>
<polygon points="749.8,294.9 749.3,294.2 749.3,305.1 749.8,305.8" fill="#fff" stroke="#fff" stroke-width="1.1" stroke-linejoin="round"/>
<polygon points="773.6,294.2 773.1,294.9 773.1,305.7 773.6,305.0" fill="#fff" stroke="#fff" stroke-width="1.1" stroke-linejoin="round"/>
<polygon points="750.4,295.6 749.8,294.9 749.8,305.8 750.4,306.4" fill="#fff" stroke="#fff" stroke-width="1.1" stroke-linejoin="round"/>
<polygon points="773.1,294.9 772.4,295.5 772.4,306.4 773.1,305.7" fill="#fff" stroke="#fff" stroke-width="1.1" stroke-linejoin="round"/>
<polygon points="751.1,296.3 750.4,295.6 750.4,306.4 751.1,307.1" fill="#fff" stroke="#fff" stroke-width="1.1" stroke-linejoin="round"/>
<polygon points="772.4,295.5 771.7,296.2 771.7,307.0 772.4,306.4" fill="#fff" stroke="#fff" stroke-width="1.1" stroke-linejoin="round"/>
<polygon points="751.9,296.8 751.1,296.3 751.1,307.1 751.9,307.7" fill="#fff" stroke="#fff" stroke-width="1.1" stroke-linejoin="round"/>
<polygon points="771.7,296.2 770.8,296.8 770.8,307.6 771.7,307.0" fill="#fff" stroke="#fff" stroke-width="1.1" stroke-linejoin="round"/>
<polygon points="752.9,297.4 751.9,296.8 751.9,307.7 752.9,308.2" fill="#fff" stroke="#fff" stroke-width="1.1" stroke-linejoin="round"/>
<polygon points="770.8,296.8 769.9,297.3 769.9,308.1 770.8,307.6" fill="#fff" stroke="#fff" stroke-width="1.1" stroke-linejoin="round"/>
<polygon points="753.9,297.8 752.9,297.4 752.9,308.2 753.9,308.7" fill="#fff" stroke="#fff" stroke-width="1.1" stroke-linejoin="round"/>
<polygon points="769.9,297.3 768.8,297.8 768.8,308.6 769.9,308.1" fill="#fff" stroke="#fff" stroke-width="1.1" stroke-linejoin="round"/>
<polygon points="755.0,298.2 753.9,297.8 753.9,308.7 755.0,309.1" fill="#fff" stroke="#fff" stroke-width="1.1" stroke-linejoin="round"/>
<polygon points="768.8,297.8 767.7,298.2 767.7,309.0 768.8,308.6" fill="#fff" stroke="#fff" stroke-width="1.1" stroke-linejoin="round"/>
<polygon points="756.2,298.6 755.0,298.2 755.0,309.1 756.2,309.4" fill="#fff" stroke="#fff" stroke-width="1.1" stroke-linejoin="round"/>
<polygon points="767.7,298.2 766.5,298.6 766.5,309.4 767.7,309.0" fill="#fff" stroke="#fff" stroke-width="1.1" stroke-linejoin="round"/>
<polygon points="757.4,298.9 756.2,298.6 756.2,309.4 757.4,309.7" fill="#fff" stroke="#fff" stroke-width="1.1" stroke-linejoin="round"/>
<polygon points="766.5,298.6 765.2,298.8 765.2,309.6 766.5,309.4" fill="#fff" stroke="#fff" stroke-width="1.1" stroke-linejoin="round"/>
<polygon points="758.7,299.0 757.4,298.9 757.4,309.7 758.7,309.9" fill="#fff" stroke="#fff" stroke-width="1.1" stroke-linejoin="round"/>
<polygon points="765.2,298.8 763.9,299.0 763.9,309.8 765.2,309.6" fill="#fff" stroke="#fff" stroke-width="1.1" stroke-linejoin="round"/>
<polygon points="760.0,299.2 758.7,299.0 758.7,309.9 760.0,310.0" fill="#fff" stroke="#fff" stroke-width="1.1" stroke-linejoin="round"/>
<polygon points="763.9,299.0 762.6,299.1 762.6,310.0 763.9,309.8" fill="#fff" stroke="#fff" stroke-width="1.1" stroke-linejoin="round"/>
<polygon points="761.3,299.2 760.0,299.2 760.0,310.0 761.3,310.0" fill="#fff" stroke="#fff" stroke-width="1.1" stroke-linejoin="round"/>
<polygon points="762.6,299.1 761.3,299.2 761.3,310.0 762.6,310.0" fill="#fff" stroke="#fff" stroke-width="1.1" stroke-linejoin="round"/>
<path d="M774.4,302.7L774.3,303.5 M774.3,303.5L774.0,304.2 M774.0,304.2L773.6,305.0 M773.6,305.0L773.1,305.7 M773.1,305.7L772.4,306.4 M772.4,306.4L771.7,307.0 M771.7,307.0L770.8,307.6 M770.8,307.6L769.9,308.1 M769.9,308.1L768.8,308.6 M768.8,308.6L767.7,309.0 M767.7,309.0L766.5,309.4 M766.5,309.4L765.2,309.6 M765.2,309.6L763.9,309.8 M763.9,309.8L762.6,310.0 M762.6,310.0L761.3,310.0 M761.3,310.0L760.0,310.0 M760.0,310.0L758.7,309.9 M758.7,309.9L757.4,309.7 M757.4,309.7L756.2,309.4 M756.2,309.4L755.0,309.1 M755.0,309.1L753.9,308.7 M753.9,308.7L752.9,308.2 M752.9,308.2L751.9,307.7 M751.9,307.7L751.1,307.1 M751.1,307.1L750.4,306.4 M750.4,306.4L749.8,305.8 M749.8,305.8L749.3,305.1 M749.3,305.1L749.0,304.3 M749.0,304.3L748.8,303.6 M748.8,303.6L748.7,302.8 M774.4,302.7L774.4,291.9 M748.7,302.8L748.7,292.0"/>
<path d="M770.7,286.4 L771.6,287.0 L772.3,287.6 L773.0,288.2 L773.5,288.9 L774.0,289.6 L774.2,290.4 L774.4,291.1 L774.4,291.9 L774.3,292.7 L774.0,293.4 L773.6,294.2 L773.1,294.9 L772.4,295.5 L771.7,296.2 L770.8,296.8 L769.9,297.3 L768.8,297.8 L767.7,298.2 L766.5,298.6 L765.2,298.8 L763.9,299.0 L762.6,299.1 L761.3,299.2 L760.0,299.2 L758.7,299.0 L757.4,298.9 L756.2,298.6 L755.0,298.2 L753.9,297.8 L752.9,297.4 L751.9,296.8 L751.1,296.3 L750.4,295.6 L749.8,294.9 L749.3,294.2 L749.0,293.5 L748.8,292.8 L748.7,292.0 L748.7,291.2 L748.9,290.5 L749.3,289.7 L749.7,289.0 L750.3,288.3 L751.0,287.6 L751.8,287.0 L752.7,286.5 L753.8,285.9 L754.8,285.5 L756.0,285.1 L757.2,284.8 L758.5,284.6 L759.8,284.4 L761.1,284.3 L762.4,284.3 L763.8,284.4 L765.1,284.5 L766.3,284.8 L767.5,285.1 L768.7,285.5 L769.7,285.9Z" fill="#fff" fill-rule="evenodd"/>
<polygon points="747.5,280.6 705.4,256.3 705.4,275.7 747.5,300.0" fill="#fff" stroke="#fff" stroke-width="1.1" stroke-linejoin="round"/>
<polygon points="781.2,272.4 781.1,273.6 781.1,293.0 781.2,291.8" fill="#fff" stroke="#fff" stroke-width="1.1" stroke-linejoin="round"/>
<polygon points="781.1,273.6 780.7,274.7 780.7,294.1 781.1,293.0" fill="#fff" stroke="#fff" stroke-width="1.1" stroke-linejoin="round"/>
<polygon points="780.7,274.7 780.1,275.8 780.1,295.2 780.7,294.1" fill="#fff" stroke="#fff" stroke-width="1.1" stroke-linejoin="round"/>
<polygon points="780.1,275.8 779.4,276.9 779.4,296.3 780.1,295.2" fill="#fff" stroke="#fff" stroke-width="1.1" stroke-linejoin="round"/>
<polygon points="779.4,276.9 778.4,277.9 778.4,297.3 779.4,296.3" fill="#fff" stroke="#fff" stroke-width="1.1" stroke-linejoin="round"/>
<polygon points="778.4,277.9 777.3,278.9 777.3,298.3 778.4,297.3" fill="#fff" stroke="#fff" stroke-width="1.1" stroke-linejoin="round"/>
<polygon points="777.3,278.9 776.1,279.8 776.1,299.2 777.3,298.3" fill="#fff" stroke="#fff" stroke-width="1.1" stroke-linejoin="round"/>
<polygon points="776.1,279.8 774.7,280.7 774.7,300.1 776.1,299.2" fill="#fff" stroke="#fff" stroke-width="1.1" stroke-linejoin="round"/>
<polygon points="749.0,281.3 747.5,280.6 747.5,300.0 749.0,300.7" fill="#fff" stroke="#fff" stroke-width="1.1" stroke-linejoin="round"/>
<polygon points="774.7,280.7 773.1,281.4 773.1,300.8 774.7,300.1" fill="#fff" stroke="#fff" stroke-width="1.1" stroke-linejoin="round"/>
<polygon points="750.6,282.0 749.0,281.3 749.0,300.7 750.6,301.4" fill="#fff" stroke="#fff" stroke-width="1.1" stroke-linejoin="round"/>
<polygon points="773.1,281.4 771.4,282.1 771.4,301.5 773.1,300.8" fill="#fff" stroke="#fff" stroke-width="1.1" stroke-linejoin="round"/>
<polygon points="752.3,282.5 750.6,282.0 750.6,301.4 752.3,301.9" fill="#fff" stroke="#fff" stroke-width="1.1" stroke-linejoin="round"/>
<polygon points="771.4,282.1 769.7,282.6 769.7,302.0 771.4,301.5" fill="#fff" stroke="#fff" stroke-width="1.1" stroke-linejoin="round"/>
<polygon points="754.1,283.0 752.3,282.5 752.3,301.9 754.1,302.4" fill="#fff" stroke="#fff" stroke-width="1.1" stroke-linejoin="round"/>
<polygon points="769.7,282.6 767.8,283.1 767.8,302.5 769.7,302.0" fill="#fff" stroke="#fff" stroke-width="1.1" stroke-linejoin="round"/>
<polygon points="756.0,283.4 754.1,283.0 754.1,302.4 756.0,302.8" fill="#fff" stroke="#fff" stroke-width="1.1" stroke-linejoin="round"/>
<polygon points="767.8,283.1 765.9,283.4 765.9,302.8 767.8,302.5" fill="#fff" stroke="#fff" stroke-width="1.1" stroke-linejoin="round"/>
<polygon points="758.0,283.6 756.0,283.4 756.0,302.8 758.0,303.0" fill="#fff" stroke="#fff" stroke-width="1.1" stroke-linejoin="round"/>
<polygon points="765.9,283.4 763.9,283.6 763.9,303.0 765.9,302.8" fill="#fff" stroke="#fff" stroke-width="1.1" stroke-linejoin="round"/>
<polygon points="759.9,283.7 758.0,283.6 758.0,303.0 759.9,303.1" fill="#fff" stroke="#fff" stroke-width="1.1" stroke-linejoin="round"/>
<polygon points="763.9,283.6 761.9,283.7 761.9,303.1 763.9,303.0" fill="#fff" stroke="#fff" stroke-width="1.1" stroke-linejoin="round"/>
<polygon points="761.9,283.7 759.9,283.7 759.9,303.1 761.9,303.1" fill="#fff" stroke="#fff" stroke-width="1.1" stroke-linejoin="round"/>
<path d="M781.2,291.8L781.1,293.0 M781.1,293.0L780.7,294.1 M780.7,294.1L780.1,295.2 M780.1,295.2L779.4,296.3 M779.4,296.3L778.4,297.3 M778.4,297.3L777.3,298.3 M777.3,298.3L776.1,299.2 M776.1,299.2L774.7,300.1 M774.7,300.1L773.1,300.8 M773.1,300.8L771.4,301.5 M771.4,301.5L769.7,302.0 M769.7,302.0L767.8,302.5 M767.8,302.5L765.9,302.8 M765.9,302.8L763.9,303.0 M763.9,303.0L761.9,303.1 M761.9,303.1L759.9,303.1 M759.9,303.1L758.0,303.0 M758.0,303.0L756.0,302.8 M756.0,302.8L754.1,302.4 M754.1,302.4L752.3,301.9 M752.3,301.9L750.6,301.4 M750.6,301.4L749.0,300.7 M749.0,300.7L747.5,300.0 M747.5,300.0L705.4,275.7 M705.4,275.7L705.4,256.3 M781.2,291.8L781.2,272.4"/>
<path d="M705.4,256.3 L733.8,239.6 L775.5,264.2 L776.9,265.0 L778.0,265.9 L779.0,266.9 L779.9,267.9 L780.5,269.0 L780.9,270.1 L781.2,271.3 L781.2,272.4 L781.1,273.6 L780.7,274.7 L780.1,275.8 L779.4,276.9 L778.4,277.9 L777.3,278.9 L776.1,279.8 L774.7,280.7 L773.1,281.4 L771.4,282.1 L769.7,282.6 L767.8,283.1 L765.9,283.4 L763.9,283.6 L761.9,283.7 L759.9,283.7 L758.0,283.6 L756.0,283.4 L754.1,283.0 L752.3,282.5 L750.6,282.0 L749.0,281.3 L747.5,280.6Z" fill="#fff" fill-rule="evenodd"/>
<line x1="747.5" y1="300.0" x2="747.5" y2="280.6" stroke-width="0.9"/>
<polyline points="705.4,269.0 747.5,293.3"/>
<polyline points="747.5,289.8 749.0,290.5 750.6,291.2 752.3,291.8 754.2,292.2 756.1,292.6 758.0,292.8 760.0,292.9 762.0,292.9 764.0,292.8 765.9,292.6 767.9,292.3 769.7,291.8 771.5,291.3 773.2,290.6 774.7,289.8 776.1,289.0 777.4,288.1 778.5,287.1 779.4,286.1 780.2,285.0 780.7,283.9 781.1,282.7 781.2,281.6"/>
<clipPath id="ch364"><polygon points="710.0,255.9 712.8,257.4 716.0,256.7 718.1,257.9 716.9,259.8 719.3,261.1 722.5,260.4 724.6,261.6 723.4,263.5 725.8,264.9 729.0,264.1 731.1,265.3 729.9,267.2 732.3,268.6 735.5,267.9 737.6,269.0 736.4,270.9 737.2,271.3 760.5,257.7 758.4,256.5 755.2,257.2 753.1,256.1 754.3,254.2 751.2,252.4 748.0,253.1 745.9,252.0 747.1,250.1 744.0,248.3 740.8,249.0 738.7,247.9 739.9,246.0 733.3,242.2"/></clipPath>
<g clip-path="url(#ch364)">
<polygon points="710.0,255.9 712.8,257.4 716.0,256.7 718.1,257.9 716.9,259.8 719.3,261.1 722.5,260.4 724.6,261.6 723.4,263.5 725.8,264.9 729.0,264.1 731.1,265.3 729.9,267.2 732.3,268.6 735.5,267.9 737.6,269.0 736.4,270.9 737.2,271.3 760.5,257.7 758.4,256.5 755.2,257.2 753.1,256.1 754.3,254.2 751.2,252.4 748.0,253.1 745.9,252.0 747.1,250.1 744.0,248.3 740.8,249.0 738.7,247.9 739.9,246.0 733.3,242.2" fill="#fff" stroke="none"/>
<polygon points="739.9,246.0 733.3,242.2 733.3,249.9 739.9,253.7" fill="#fff" stroke="#fff" stroke-width="1.1" stroke-linejoin="round"/>
<polygon points="740.8,249.0 738.7,247.9 738.7,255.6 740.8,256.7" fill="#fff" stroke="#fff" stroke-width="1.1" stroke-linejoin="round"/>
<polygon points="744.0,248.3 740.8,249.0 740.8,256.7 744.0,256.0" fill="#fff" stroke="#fff" stroke-width="1.1" stroke-linejoin="round"/>
<polygon points="733.3,242.2 710.0,255.9 710.0,263.6 733.3,249.9" fill="#fff" stroke="#fff" stroke-width="1.1" stroke-linejoin="round"/>
<polygon points="747.1,250.1 744.0,248.3 744.0,256.0 747.1,257.8" fill="#fff" stroke="#fff" stroke-width="1.1" stroke-linejoin="round"/>
<polygon points="748.0,253.1 745.9,252.0 745.9,259.7 748.0,260.8" fill="#fff" stroke="#fff" stroke-width="1.1" stroke-linejoin="round"/>
<polygon points="751.2,252.4 748.0,253.1 748.0,260.8 751.2,260.1" fill="#fff" stroke="#fff" stroke-width="1.1" stroke-linejoin="round"/>
<polygon points="754.3,254.2 751.2,252.4 751.2,260.1 754.3,261.9" fill="#fff" stroke="#fff" stroke-width="1.1" stroke-linejoin="round"/>
<polygon points="755.2,257.2 753.1,256.1 753.1,263.8 755.2,265.0" fill="#fff" stroke="#fff" stroke-width="1.1" stroke-linejoin="round"/>
<polygon points="758.4,256.5 755.2,257.2 755.2,265.0 758.4,264.2" fill="#fff" stroke="#fff" stroke-width="1.1" stroke-linejoin="round"/>
<polygon points="760.5,257.7 758.4,256.5 758.4,264.2 760.5,265.4" fill="#fff" stroke="#fff" stroke-width="1.1" stroke-linejoin="round"/>
<polygon points="718.1,257.9 716.9,259.8 716.9,267.5 718.1,265.6" fill="#fff" stroke="#fff" stroke-width="1.1" stroke-linejoin="round"/>
<polygon points="724.6,261.6 723.4,263.5 723.4,271.2 724.6,269.3" fill="#fff" stroke="#fff" stroke-width="1.1" stroke-linejoin="round"/>
<polygon points="731.1,265.3 729.9,267.2 729.9,274.9 731.1,273.0" fill="#fff" stroke="#fff" stroke-width="1.1" stroke-linejoin="round"/>
<polygon points="737.6,269.0 736.4,270.9 736.4,278.6 737.6,276.7" fill="#fff" stroke="#fff" stroke-width="1.1" stroke-linejoin="round"/>
<path d="M718.1,265.6L716.9,267.5 M718.1,257.9L716.9,259.8 M724.6,269.3L723.4,271.2 M724.6,261.6L723.4,263.5 M731.1,273.0L729.9,274.9 M731.1,265.3L729.9,267.2 M737.6,276.7L736.4,278.6 M737.6,269.0L736.4,270.9 M760.5,265.4L758.4,264.2 M760.5,257.7L758.4,256.5 M758.4,264.2L755.2,265.0 M758.4,256.5L755.2,257.2 M755.2,265.0L753.1,263.8 M755.2,257.2L753.1,256.1 M754.3,261.9L751.2,260.1 M754.3,254.2L751.2,252.4 M751.2,260.1L748.0,260.8 M751.2,252.4L748.0,253.1 M748.0,260.8L745.9,259.7 M748.0,253.1L745.9,252.0 M747.1,257.8L744.0,256.0 M747.1,250.1L744.0,248.3 M744.0,256.0L740.8,256.7 M744.0,248.3L740.8,249.0 M740.8,256.7L738.7,255.6 M740.8,249.0L738.7,247.9 M739.9,253.7L733.3,249.9 M739.9,246.0L733.3,242.2 M733.3,249.9L710.0,263.6 M733.3,242.2L710.0,255.9 M710.0,263.6L710.0,255.9 M718.1,265.6L718.1,257.9 M716.9,267.5L716.9,259.8 M724.6,269.3L724.6,261.6 M723.4,271.2L723.4,263.5 M731.1,273.0L731.1,265.3 M729.9,274.9L729.9,267.2 M737.6,276.7L737.6,269.0 M736.4,278.6L736.4,270.9 M760.5,265.4L760.5,257.7 M758.4,264.2L758.4,256.5 M755.2,265.0L755.2,257.2 M753.1,263.8L753.1,256.1 M754.3,261.9L754.3,254.2 M751.2,260.1L751.2,252.4 M748.0,260.8L748.0,253.1 M745.9,259.7L745.9,252.0 M747.1,257.8L747.1,250.1 M744.0,256.0L744.0,248.3 M740.8,256.7L740.8,249.0 M738.7,255.6L738.7,247.9 M739.9,253.7L739.9,246.0 M733.3,249.9L733.3,242.2"/>
<polyline points="727.0,264.0 730.5,261.2 733.9,263.5 737.4,261.1 740.8,263.4 744.9,264.2" stroke-width="0.9"/>
<line x1="733.8" y1="273.9" x2="751.5" y2="263.5" stroke-width="0.9"/>
<line x1="735.8" y1="275.1" x2="753.6" y2="264.7" stroke-width="0.9"/>
</g>
<polygon points="710.0,255.9 712.8,257.4 716.0,256.7 718.1,257.9 716.9,259.8 719.3,261.1 722.5,260.4 724.6,261.6 723.4,263.5 725.8,264.9 729.0,264.1 731.1,265.3 729.9,267.2 732.3,268.6 735.5,267.9 737.6,269.0 736.4,270.9 737.2,271.3 760.5,257.7 758.4,256.5 755.2,257.2 753.1,256.1 754.3,254.2 751.2,252.4 748.0,253.1 745.9,252.0 747.1,250.1 744.0,248.3 740.8,249.0 738.7,247.9 739.9,246.0 733.3,242.2"/>
<polygon points="747.3,268.6 738.4,263.5 738.4,268.4 747.3,273.5" fill="#fff" stroke="#fff" stroke-width="1.1" stroke-linejoin="round"/>
<polygon points="753.5,264.9 747.3,268.6 747.3,273.5 753.5,269.9" fill="#fff" stroke="#fff" stroke-width="1.1" stroke-linejoin="round"/>
<path d="M753.5,269.9L747.3,273.5 M747.3,273.5L738.4,268.4 M738.4,268.4L738.4,263.5 M753.5,269.9L753.5,264.9 M747.3,273.5L747.3,268.6"/>
<path d="M738.4,263.5 L744.6,259.9 L753.5,264.9 L747.3,268.6Z" fill="#fff" fill-rule="evenodd"/>
<polygon points="704.0,253.6 731.1,237.7 732.3,240.0 705.4,256.2" fill="#fff"/>
<path d="M704.2,255.1 l3.6,8.2 M706.4,255.2 l3.4,7.6" stroke-width="0.9"/>
<path d="M731.3,239.2 l3.6,8.2 M733.5,239.3 l3.4,7.6" stroke-width="0.9"/>
<path d="M714.7,248.4 q1.5,6.5 6.5,12 M717.4,247.0 q1.6,6.5 6.8,11.6" stroke-width="0.9"/>
<polygon points="775.5,264.2 776.9,265.0 778.1,265.9 779.1,266.9 779.9,268.0 780.5,269.1 781.0,270.2 781.2,271.4 781.2,272.6 781.0,273.7 780.6,274.9 780.0,276.0 779.2,277.1 778.2,278.2 777.1,279.1 775.7,280.0 774.3,280.9 772.6,281.6 770.9,282.2 769.1,282.8 767.2,283.2 765.2,283.5 763.2,283.7 761.2,283.7 759.2,283.7 757.2,283.5 755.2,283.2 753.3,282.8 751.5,282.3 749.8,281.7 748.3,281.0 746.9,280.1 745.6,279.2 744.5,278.3 743.6,277.2 742.8,276.2 742.3,275.0 742.0,273.9 741.9,272.7 742.0,271.5 742.3,270.4 742.8,269.2 743.5,268.1 744.3,267.1 745.4,266.1 746.7,265.1 748.1,264.2 749.6,263.5 751.3,262.8 753.1,262.2 754.9,261.7 756.9,261.4 758.9,261.1 760.9,261.0 762.9,261.0 764.9,261.1 766.9,261.3 768.8,261.7 770.7,262.1 772.4,262.7 774.0,263.4 775.5,264.2" fill="#fff"/>
<polygon points="772.8,265.7 773.9,266.4 774.9,267.2 775.7,268.0 776.4,268.8 776.9,269.7 777.2,270.7 777.4,271.6 777.4,272.5 777.3,273.5 776.9,274.4 776.4,275.3 775.8,276.2 775.0,277.0 774.1,277.8 773.0,278.6 771.8,279.2 770.5,279.8 769.1,280.3 767.6,280.8 766.1,281.1 764.5,281.3 762.9,281.5 761.2,281.5 759.6,281.5 758.0,281.4 756.4,281.1 754.9,280.8 753.5,280.4 752.1,279.9 750.8,279.3 749.7,278.6 748.7,277.9 747.8,277.1 747.0,276.3 746.4,275.4 746.0,274.5 745.8,273.6 745.7,272.6 745.7,271.7 746.0,270.8 746.4,269.8 746.9,268.9 747.7,268.1 748.5,267.3 749.5,266.5 750.7,265.8 751.9,265.2 753.3,264.6 754.7,264.2 756.2,263.8 757.8,263.5 759.4,263.3 761.0,263.2 762.7,263.2 764.3,263.3 765.9,263.5 767.4,263.7 768.9,264.1 770.3,264.6 771.6,265.1 772.8,265.7" fill="#fff"/>
<polyline points="748.5,279.0 747.6,278.3 746.9,277.4 746.4,276.6 746.0,275.7 745.7,274.8 745.7,273.9 745.7,272.9 746.0,272.0 746.4,271.1 746.9,270.2 747.6,269.4 748.5,268.6 749.4,267.9 750.5,267.2 751.7,266.5 753.0,266.0 754.4,265.5 755.9,265.1 757.4,264.8 759.0,264.6 760.6,264.5 762.2,264.4 763.8,264.5 765.3,264.7 766.9,264.9 768.3,265.2" stroke-width="0.9"/>
<polygon points="771.5,265.7 772.5,266.3 773.3,267.0 774.1,267.7 774.6,268.5 775.1,269.2 775.4,270.1 775.6,270.9 775.6,271.7 775.4,272.6 775.1,273.4 774.7,274.2 774.1,275.0 773.4,275.7 772.6,276.4 771.7,277.0 770.6,277.6 769.5,278.1 768.2,278.6 766.9,279.0 765.6,279.3 764.2,279.5 762.7,279.6 761.3,279.7 759.8,279.6 758.4,279.5 757.0,279.3 755.7,279.0 754.4,278.6 753.2,278.2 752.1,277.7 751.1,277.1 750.2,276.5 749.4,275.8 748.7,275.0 748.2,274.3 747.8,273.5 747.6,272.6 747.5,271.8 747.6,271.0 747.8,270.2 748.1,269.3 748.6,268.5 749.3,267.8 750.1,267.1 750.9,266.4 751.9,265.8 753.0,265.2 754.2,264.7 755.5,264.3 756.8,264.0 758.2,263.7 759.6,263.5 761.1,263.5 762.5,263.5 764.0,263.5 765.4,263.7 766.7,263.9 768.1,264.3 769.3,264.7 770.5,265.2 771.5,265.7" fill="#fff"/>
<path d="M760.3,270.6 L758.9,279.2 M762.8,270.6 L762.1,279.6" stroke-width="1.3" stroke="#111"/>
<path d="M761.1,270.1 l-1,-5.5 m2.4,5 l2.2,-4.8 M759.5,270.0 l-5.2,-2.6 m9.6,3 l5.6,-2" stroke-width="0.9"/>
<ellipse cx="757.9" cy="268.4" rx="2.4" ry="1.7" stroke-width="0.9"/>
<ellipse cx="765.5" cy="268.6" rx="2.4" ry="1.7" stroke-width="0.9"/>
<ellipse cx="761.5" cy="270.0" rx="6.2" ry="4.3" stroke-width="0.8"/>
</g>
<polygon points="697.6,306.5 697.6,290.7 719.5,293.1" fill="#fff" stroke-width="0.9"/>
<polygon points="700.4,308.1 700.4,292.3 722.2,294.6" fill="#fff" stroke-width="0.9"/>
<polygon points="740.5,295.3 605.7,374.2 605.7,409.9 740.5,330.9" fill="#fff" stroke="#fff" stroke-width="1.1" stroke-linejoin="round"/>
<polygon points="605.7,374.2 520.0,325.3 520.0,360.9 605.7,409.9" fill="#fff" stroke="#fff" stroke-width="1.1" stroke-linejoin="round"/>
<path d="M740.5,330.9L605.7,409.9 M605.7,409.9L520.0,360.9 M520.0,360.9L520.0,325.3 M740.5,330.9L740.5,295.3 M605.7,409.9L605.7,374.2"/>
<path d="M520.0,325.3 L654.7,246.4 L740.5,295.3 L605.7,374.2Z" fill="#fff" fill-rule="evenodd"/>
<line x1="607.3" y1="409.0" x2="607.3" y2="373.3" stroke-width="0.8"/>
<line x1="604.2" y1="409.0" x2="604.2" y2="373.4" stroke-width="0.8"/>
<line x1="738.9" y1="331.8" x2="738.9" y2="296.2" stroke-width="0.8"/>
<polygon points="740.5,291.5 605.7,370.4 605.7,374.2 740.5,295.3" fill="#fff" stroke="#fff" stroke-width="1.1" stroke-linejoin="round"/>
<polygon points="605.7,370.4 520.0,321.5 520.0,325.3 605.7,374.2" fill="#fff" stroke="#fff" stroke-width="1.1" stroke-linejoin="round"/>
<path d="M740.5,295.3L605.7,374.2 M605.7,374.2L520.0,325.3 M520.0,325.3L520.0,321.5 M740.5,295.3L740.5,291.5 M605.7,374.2L605.7,370.4"/>
<path d="M520.0,321.5 L654.7,242.5 L740.5,291.5 L605.7,370.4Z" fill="#fff" fill-rule="evenodd"/>
<line x1="643.9" y1="358.6" x2="710.7" y2="319.5" stroke-width="0.9"/>
<line x1="643.9" y1="378.9" x2="710.7" y2="339.8" stroke-width="0.9"/>
<polyline points="520.0,321.5 654.7,242.5 740.5,291.5" stroke-width="1.7" stroke="#111"/>
<polyline points="577.8,385.9 578.7,384.8 579.4,383.4 580.0,381.9 580.4,380.2 580.7,378.4 580.7,376.5 580.6,374.5 580.4,372.4 579.9,370.3 579.3,368.1 578.5,365.9 577.6,363.7 576.6,361.6 575.4,359.5 574.1,357.5 572.7,355.6 571.2,353.9 569.6,352.2 568.0,350.8 566.3,349.5 564.6,348.4 562.9,347.5 561.3,346.8 559.6,346.3 558.0,346.1 556.5,346.0 555.0,346.2 553.7,346.6 552.5,347.3 551.4,348.1 550.4,349.2 549.6,350.4 548.9,351.8 548.4,353.4 548.0,355.1 547.9,357.0 547.9,359.0 548.1,361.0 548.4,363.1" stroke-width="0.9"/>
<polyline points="565.5,389.2 566.9,389.4 568.3,389.3 569.5,389.0 570.7,388.4 571.7,387.7 572.7,386.9 573.5,385.8 574.1,384.5 574.6,383.1 575.0,381.6 575.2,380.0 575.2,378.2 575.1,376.3 574.8,374.4 574.3,372.5 573.7,370.5 573.0,368.5 572.1,366.5 571.1,364.6 570.0,362.7 568.8,361.0 567.5,359.3 566.1,357.7 564.7,356.3 563.2,355.0 561.6,353.9 560.1,353.0 558.6,352.3 557.1,351.7 555.6,351.4 554.2,351.3 552.8,351.3 551.6,351.6 550.4,352.1 549.3,352.8 548.4,353.6 547.6,354.7 546.9,355.9 546.4,357.3 546.0,358.8 545.8,360.5 545.7,362.2 545.9,364.1 546.1,366.0 546.6,367.9 547.1,369.9" stroke-width="1.3"/>
<polyline points="565.1,387.6 566.4,387.7 567.6,387.6 568.7,387.3 569.8,386.8 570.7,386.2 571.6,385.4 572.3,384.4 572.9,383.3 573.4,382.0 573.7,380.6 573.9,379.1 573.9,377.5 573.8,375.8 573.5,374.1 573.1,372.3 572.6,370.5 571.9,368.7 571.1,366.9 570.2,365.1 569.2,363.4 568.1,361.8 566.9,360.3 565.6,358.8 564.3,357.5 562.9,356.4 561.5,355.4 560.1,354.5 558.7,353.9 557.4,353.4 556.0,353.1 554.7,352.9 553.5,353.0 552.3,353.3 551.3,353.7 550.3,354.3 549.4,355.1 548.7,356.1 548.1,357.2 547.6,358.5 547.3,359.8 547.1,361.3 547.1,362.9 547.1,364.6 547.4,366.4 547.8,368.1 548.3,369.9" stroke-width="0.9"/>
<path d="M575,395 Q581,391 583.2,386.2 L589,388.4" stroke-width="0.8"/>
<path d="M514.0,323.1 V332.0 L517.4,334.1 V340.1 L506.8,361.1 L509.4,362.1 L520.2,340.5 V324.3 L516.0,321.7 Z" fill="#fff"/>
<path d="M514.0,323.1 L516.0,321.7 M517.4,334.1 V325.1 L514.0,323.1" stroke-width="0.8"/>
<polygon points="735.7,372.2 735.6,373.3 735.6,386.2 735.7,385.1" fill="#fff" stroke="#fff" stroke-width="1.1" stroke-linejoin="round"/>
<polygon points="735.6,373.3 735.2,374.4 735.2,387.3 735.6,386.2" fill="#fff" stroke="#fff" stroke-width="1.1" stroke-linejoin="round"/>
<polygon points="735.2,374.4 734.6,375.5 734.6,388.3 735.2,387.3" fill="#fff" stroke="#fff" stroke-width="1.1" stroke-linejoin="round"/>
<polygon points="734.6,375.5 733.7,376.5 733.7,389.3 734.6,388.3" fill="#fff" stroke="#fff" stroke-width="1.1" stroke-linejoin="round"/>
<polygon points="733.7,376.5 732.6,377.4 732.6,390.3 733.7,389.3" fill="#fff" stroke="#fff" stroke-width="1.1" stroke-linejoin="round"/>
<polygon points="732.6,377.4 731.4,378.2 731.4,391.1 732.6,390.3" fill="#fff" stroke="#fff" stroke-width="1.1" stroke-linejoin="round"/>
<polygon points="731.4,378.2 687.4,404.0 687.4,416.9 731.4,391.1" fill="#fff" stroke="#fff" stroke-width="1.1" stroke-linejoin="round"/>
<polygon points="666.8,404.2 640.9,389.5 640.9,402.3 666.8,417.1" fill="#fff" stroke="#fff" stroke-width="1.1" stroke-linejoin="round"/>
<polygon points="668.2,404.9 666.8,404.2 666.8,417.1 668.2,417.8" fill="#fff" stroke="#fff" stroke-width="1.1" stroke-linejoin="round"/>
<polygon points="687.4,404.0 686.0,404.7 686.0,417.6 687.4,416.9" fill="#fff" stroke="#fff" stroke-width="1.1" stroke-linejoin="round"/>
<polygon points="669.8,405.5 668.2,404.9 668.2,417.8 669.8,418.4" fill="#fff" stroke="#fff" stroke-width="1.1" stroke-linejoin="round"/>
<polygon points="686.0,404.7 684.4,405.4 684.4,418.2 686.0,417.6" fill="#fff" stroke="#fff" stroke-width="1.1" stroke-linejoin="round"/>
<polygon points="671.5,406.0 669.8,405.5 669.8,418.4 671.5,418.9" fill="#fff" stroke="#fff" stroke-width="1.1" stroke-linejoin="round"/>
<polygon points="684.4,405.4 682.7,405.9 682.7,418.7 684.4,418.2" fill="#fff" stroke="#fff" stroke-width="1.1" stroke-linejoin="round"/>
<polygon points="673.3,406.3 671.5,406.0 671.5,418.9 673.3,419.2" fill="#fff" stroke="#fff" stroke-width="1.1" stroke-linejoin="round"/>
<polygon points="682.7,405.9 680.9,406.2 680.9,419.1 682.7,418.7" fill="#fff" stroke="#fff" stroke-width="1.1" stroke-linejoin="round"/>
<polygon points="675.2,406.5 673.3,406.3 673.3,419.2 675.2,419.4" fill="#fff" stroke="#fff" stroke-width="1.1" stroke-linejoin="round"/>
<polygon points="680.9,406.2 679.0,406.5 679.0,419.4 680.9,419.1" fill="#fff" stroke="#fff" stroke-width="1.1" stroke-linejoin="round"/>
<polygon points="677.1,406.6 675.2,406.5 675.2,419.4 677.1,419.4" fill="#fff" stroke="#fff" stroke-width="1.1" stroke-linejoin="round"/>
<polygon points="679.0,406.5 677.1,406.6 677.1,419.4 679.0,419.4" fill="#fff" stroke="#fff" stroke-width="1.1" stroke-linejoin="round"/>
<path d="M735.7,385.1L735.6,386.2 M735.6,386.2L735.2,387.3 M735.2,387.3L734.6,388.3 M734.6,388.3L733.7,389.3 M733.7,389.3L732.6,390.3 M732.6,390.3L731.4,391.1 M731.4,391.1L687.4,416.9 M687.4,416.9L686.0,417.6 M686.0,417.6L684.4,418.2 M684.4,418.2L682.7,418.7 M682.7,418.7L680.9,419.1 M680.9,419.1L679.0,419.4 M679.0,419.4L677.1,419.4 M677.1,419.4L675.2,419.4 M675.2,419.4L673.3,419.2 M673.3,419.2L671.5,418.9 M671.5,418.9L669.8,418.4 M669.8,418.4L668.2,417.8 M668.2,417.8L666.8,417.1 M666.8,417.1L640.9,402.3 M640.9,402.3L640.9,389.5 M735.7,385.1L735.7,372.2"/>
<path d="M640.9,389.5 L705.7,351.5 L731.5,366.3 L732.7,367.1 L733.8,368.0 L734.6,369.0 L735.2,370.0 L735.6,371.1 L735.7,372.2 L735.6,373.3 L735.2,374.4 L734.6,375.5 L733.7,376.5 L732.6,377.4 L731.4,378.2 L687.4,404.0 L686.0,404.7 L684.4,405.4 L682.7,405.9 L680.9,406.2 L679.0,406.5 L677.1,406.6 L675.2,406.5 L673.3,406.3 L671.5,406.0 L669.8,405.5 L668.2,404.9 L666.8,404.2Z M646.9,388.5 L704.0,355.0 L726.1,367.6 L727.1,368.3 L727.9,369.0 L728.6,369.8 L729.1,370.6 L729.4,371.5 L729.5,372.4 L729.4,373.2 L729.1,374.1 L728.6,375.0 L727.9,375.8 L727.0,376.5 L726.0,377.2 L685.5,400.9 L684.4,401.5 L683.1,402.0 L681.7,402.4 L680.3,402.7 L678.8,402.9 L677.2,403.0 L675.7,402.9 L674.2,402.8 L672.8,402.5 L671.4,402.1 L670.1,401.6 L669.0,401.1Z" fill="#fff" fill-rule="evenodd"/>
<clipPath id="tabc"><polygon points="646.9,388.5 704.0,355.0 726.1,367.6 727.1,368.3 727.9,369.0 728.6,369.8 729.1,370.6 729.4,371.5 729.5,372.4 729.4,373.2 729.1,374.1 728.6,375.0 727.9,375.8 727.0,376.5 726.0,377.2 685.5,400.9 684.4,401.5 683.1,402.0 681.7,402.4 680.3,402.7 678.8,402.9 677.2,403.0 675.7,402.9 674.2,402.8 672.8,402.5 671.4,402.1 670.1,401.6 669.0,401.1"/></clipPath>
<g clip-path="url(#tabc)">
<polygon points="646.9,388.5 704.0,355.0 726.1,367.6 727.1,368.3 727.9,369.0 728.6,369.8 729.1,370.6 729.4,371.5 729.5,372.4 729.4,373.2 729.1,374.1 728.6,375.0 727.9,375.8 727.0,376.5 726.0,377.2 685.5,400.9 684.4,401.5 683.1,402.0 681.7,402.4 680.3,402.7 678.8,402.9 677.2,403.0 675.7,402.9 674.2,402.8 672.8,402.5 671.4,402.1 670.1,401.6 669.0,401.1" fill="#fff" stroke="none"/>
<polygon points="704.0,355.0 726.1,367.6 726.1,375.3 704.0,362.7" fill="#fff" stroke="#fff" stroke-width="1.1" stroke-linejoin="round"/>
<polygon points="726.1,367.6 727.1,368.3 727.1,376.0 726.1,375.3" fill="#fff" stroke="#fff" stroke-width="1.1" stroke-linejoin="round"/>
<polygon points="727.1,368.3 727.9,369.0 727.9,376.7 727.1,376.0" fill="#fff" stroke="#fff" stroke-width="1.1" stroke-linejoin="round"/>
<polygon points="727.9,369.0 728.6,369.8 728.6,377.5 727.9,376.7" fill="#fff" stroke="#fff" stroke-width="1.1" stroke-linejoin="round"/>
<polygon points="728.6,369.8 729.1,370.6 729.1,378.3 728.6,377.5" fill="#fff" stroke="#fff" stroke-width="1.1" stroke-linejoin="round"/>
<polygon points="646.9,388.5 704.0,355.0 704.0,362.7 646.9,396.2" fill="#fff" stroke="#fff" stroke-width="1.1" stroke-linejoin="round"/>
<polygon points="729.1,370.6 729.4,371.5 729.4,379.2 729.1,378.3" fill="#fff" stroke="#fff" stroke-width="1.1" stroke-linejoin="round"/>
<polygon points="729.4,371.5 729.5,372.4 729.5,380.1 729.4,379.2" fill="#fff" stroke="#fff" stroke-width="1.1" stroke-linejoin="round"/>
<path d="M646.9,396.2L704.0,362.7 M646.9,388.5L704.0,355.0 M704.0,362.7L726.1,375.3 M704.0,355.0L726.1,367.6 M726.1,375.3L727.1,376.0 M726.1,367.6L727.1,368.3 M727.1,376.0L727.9,376.7 M727.1,368.3L727.9,369.0 M727.9,376.7L728.6,377.5 M727.9,369.0L728.6,369.8 M728.6,377.5L729.1,378.3 M728.6,369.8L729.1,370.6 M729.1,378.3L729.4,379.2 M729.1,370.6L729.4,371.5 M729.4,379.2L729.5,380.1 M729.4,371.5L729.5,372.4 M646.9,396.2L646.9,388.5 M704.0,362.7L704.0,355.0 M729.5,380.1L729.5,372.4"/>
<polygon points="700.2,389.7 700.6,390.8 700.9,391.9 700.9,393.1 700.8,394.2 700.4,395.3 699.9,396.4 699.1,397.5 698.2,398.5 697.1,399.5 695.8,400.3 694.4,401.1 692.9,401.9 691.2,402.5 689.4,403.0 687.6,403.4 685.7,403.7 683.8,403.9 681.8,404.0 679.8,404.0 677.9,403.8 676.0,403.5 674.2,403.1 672.5,402.6 670.8,402.0 669.3,401.3 667.9,400.5 666.7,399.7 665.6,398.7 664.7,397.7 664.1,396.7 663.5,395.6 663.2,394.5 663.1,393.3 663.2,392.2 663.5,391.1 664.0,390.0 664.7,388.9 665.6,387.9 666.7,386.9 667.9,386.0 669.3,385.2 670.8,384.4 672.4,383.8 674.2,383.2 676.0,382.8 677.9,382.5 679.8,382.2 681.8,382.1 683.7,382.2 685.7,382.3 687.6,382.5 699.3,375.7 700.2,375.2 701.3,374.8 702.4,374.5 703.5,374.2 704.7,374.1 706.0,374.1 707.2,374.1 708.4,374.3 709.5,374.5 710.6,374.9 711.5,375.3 712.4,375.8 713.1,376.3 713.7,376.9 714.2,377.6 714.4,378.3 714.6,379.0 714.5,379.7 714.3,380.4 713.9,381.1 713.4,381.7 712.7,382.3 711.9,382.9" fill="#fff"/>
<clipPath id="keyc"><polygon points="700.2,389.7 700.6,390.8 700.9,391.9 700.9,393.1 700.8,394.2 700.4,395.3 699.9,396.4 699.1,397.5 698.2,398.5 697.1,399.5 695.8,400.3 694.4,401.1 692.9,401.9 691.2,402.5 689.4,403.0 687.6,403.4 685.7,403.7 683.8,403.9 681.8,404.0 679.8,404.0 677.9,403.8 676.0,403.5 674.2,403.1 672.5,402.6 670.8,402.0 669.3,401.3 667.9,400.5 666.7,399.7 665.6,398.7 664.7,397.7 664.1,396.7 663.5,395.6 663.2,394.5 663.1,393.3 663.2,392.2 663.5,391.1 664.0,390.0 664.7,388.9 665.6,387.9 666.7,386.9 667.9,386.0 669.3,385.2 670.8,384.4 672.4,383.8 674.2,383.2 676.0,382.8 677.9,382.5 679.8,382.2 681.8,382.1 683.7,382.2 685.7,382.3 687.6,382.5 699.3,375.7 700.2,375.2 701.3,374.8 702.4,374.5 703.5,374.2 704.7,374.1 706.0,374.1 707.2,374.1 708.4,374.3 709.5,374.5 710.6,374.9 711.5,375.3 712.4,375.8 713.1,376.3 713.7,376.9 714.2,377.6 714.4,378.3 714.6,379.0 714.5,379.7 714.3,380.4 713.9,381.1 713.4,381.7 712.7,382.3 711.9,382.9"/></clipPath>
<g clip-path="url(#keyc)"><polygon points="700.2,394.9 700.6,396.0 700.9,397.1 700.9,398.2 700.8,399.4 700.4,400.5 699.9,401.6 699.1,402.7 698.2,403.7 697.1,404.6 695.8,405.5 694.4,406.3 692.9,407.0 691.2,407.7 689.4,408.2 687.6,408.6 685.7,408.9 683.8,409.1 681.8,409.2 679.8,409.1 677.9,409.0 676.0,408.7 674.2,408.3 672.5,407.8 670.8,407.2 669.3,406.5 667.9,405.7 666.7,404.8 665.6,403.9 664.7,402.9 664.1,401.8 663.5,400.8 663.2,399.6 663.1,398.5 663.2,397.4 663.5,396.3 664.0,395.1 664.7,394.1 665.6,393.1 666.7,392.1 667.9,391.2 669.3,390.3 670.8,389.6 672.4,389.0 674.2,388.4 676.0,388.0 677.9,387.6 679.8,387.4 681.8,387.3 683.7,387.3 685.7,387.5 687.6,387.7 699.3,380.8 700.2,380.4 701.3,380.0 702.4,379.6 703.5,379.4 704.7,379.3 706.0,379.2 707.2,379.3 708.4,379.5 709.5,379.7 710.6,380.0 711.5,380.5 712.4,380.9 713.1,381.5 713.7,382.1 714.2,382.8 714.4,383.5 714.6,384.2 714.5,384.9 714.3,385.6 713.9,386.2 713.4,386.9 712.7,387.5 711.9,388.0" fill="none"/></g>
</g>
<polygon points="646.9,388.5 704.0,355.0 726.1,367.6 727.1,368.3 727.9,369.0 728.6,369.8 729.1,370.6 729.4,371.5 729.5,372.4 729.4,373.2 729.1,374.1 728.6,375.0 727.9,375.8 727.0,376.5 726.0,377.2 685.5,400.9 684.4,401.5 683.1,402.0 681.7,402.4 680.3,402.7 678.8,402.9 677.2,403.0 675.7,402.9 674.2,402.8 672.8,402.5 671.4,402.1 670.1,401.6 669.0,401.1" fill="none"/>
<polygon points="649.4,357.8 627.7,370.5 627.7,403.2 649.4,390.4" fill="#fff" stroke="#fff" stroke-width="1.1" stroke-linejoin="round"/>
<polygon points="627.7,370.5 622.2,367.4 622.2,400.0 627.7,403.2" fill="#fff" stroke="#fff" stroke-width="1.1" stroke-linejoin="round"/>
<path d="M649.4,390.4L627.7,403.2 M627.7,403.2L622.2,400.0 M622.2,400.0L622.2,367.4 M649.4,390.4L649.4,357.8 M627.7,403.2L627.7,370.5"/>
<path d="M622.2,367.4 L643.9,354.6 L649.4,357.8 L627.7,370.5Z" fill="#fff" fill-rule="evenodd"/>
<polygon points="629.4,400.1 629.4,371.2 647.9,360.4 647.9,389.3" fill="none" stroke-width="0.8"/>
<line x1="627.4" y1="369.1" x2="647.0" y2="357.6" stroke-width="0.8"/>
<polygon points="627.7,361.4 621.6,357.9 621.6,363.0 627.7,366.5" fill="#fff" stroke="#fff" stroke-width="1.1" stroke-linejoin="round"/>
<polygon points="630.8,359.6 627.7,361.4 627.7,366.5 630.8,364.7" fill="#fff" stroke="#fff" stroke-width="1.1" stroke-linejoin="round"/>
<path d="M630.8,364.7L627.7,366.5 M627.7,366.5L621.6,363.0 M621.6,363.0L621.6,357.9 M630.8,364.7L630.8,359.6 M627.7,366.5L627.7,361.4"/>
<path d="M621.6,357.9 L624.6,356.1 L630.8,359.6 L627.7,361.4Z" fill="#fff" fill-rule="evenodd"/>
<polygon points="642.8,352.6 636.7,349.0 636.7,354.1 642.8,357.7" fill="#fff" stroke="#fff" stroke-width="1.1" stroke-linejoin="round"/>
<polygon points="645.9,350.8 642.8,352.6 642.8,357.7 645.9,355.9" fill="#fff" stroke="#fff" stroke-width="1.1" stroke-linejoin="round"/>
<path d="M645.9,355.9L642.8,357.7 M642.8,357.7L636.7,354.1 M636.7,354.1L636.7,349.0 M645.9,355.9L645.9,350.8 M642.8,357.7L642.8,352.6"/>
<path d="M636.7,349.0 L639.7,347.3 L645.9,350.8 L642.8,352.6Z" fill="#fff" fill-rule="evenodd"/>
<circle cx="621.2" cy="378.3" r="1.5" fill="#fff"/>
<line x1="621.8" y1="376.9" x2="624.0" y2="363.2" stroke-width="0.8"/>
<polygon points="734.9,307.7 716.2,318.6 716.2,351.3 734.9,340.3" fill="#fff" stroke="#fff" stroke-width="1.1" stroke-linejoin="round"/>
<polygon points="716.2,318.6 710.7,315.5 710.7,348.2 716.2,351.3" fill="#fff" stroke="#fff" stroke-width="1.1" stroke-linejoin="round"/>
<path d="M734.9,340.3L716.2,351.3 M716.2,351.3L710.7,348.2 M710.7,348.2L710.7,315.5 M734.9,340.3L734.9,307.7 M716.2,351.3L716.2,318.6"/>
<path d="M710.7,315.5 L729.4,304.5 L734.9,307.7 L716.2,318.6Z" fill="#fff" fill-rule="evenodd"/>
<polygon points="717.9,348.2 717.9,319.4 733.4,310.3 733.4,339.2" fill="none" stroke-width="0.8"/>
<line x1="715.9" y1="317.2" x2="732.5" y2="307.5" stroke-width="0.8"/>
<polygon points="716.2,309.6 710.1,306.1 710.1,311.1 716.2,314.7" fill="#fff" stroke="#fff" stroke-width="1.1" stroke-linejoin="round"/>
<polygon points="719.3,307.8 716.2,309.6 716.2,314.7 719.3,312.9" fill="#fff" stroke="#fff" stroke-width="1.1" stroke-linejoin="round"/>
<path d="M719.3,312.9L716.2,314.7 M716.2,314.7L710.1,311.1 M710.1,311.1L710.1,306.1 M719.3,312.9L719.3,307.8 M716.2,314.7L716.2,309.6"/>
<path d="M710.1,306.1 L713.1,304.3 L719.3,307.8 L716.2,309.6Z" fill="#fff" fill-rule="evenodd"/>
<polygon points="728.3,302.5 722.2,298.9 722.2,304.0 728.3,307.6" fill="#fff" stroke="#fff" stroke-width="1.1" stroke-linejoin="round"/>
<polygon points="731.4,300.7 728.3,302.5 728.3,307.6 731.4,305.8" fill="#fff" stroke="#fff" stroke-width="1.1" stroke-linejoin="round"/>
<path d="M731.4,305.8L728.3,307.6 M728.3,307.6L722.2,304.0 M722.2,304.0L722.2,298.9 M731.4,305.8L731.4,300.7 M728.3,307.6L728.3,302.5"/>
<path d="M722.2,298.9 L725.2,297.2 L731.4,300.7 L728.3,302.5Z" fill="#fff" fill-rule="evenodd"/>
<circle cx="709.7" cy="326.5" r="1.5" fill="#fff"/>
<line x1="710.3" y1="325.1" x2="712.5" y2="311.3" stroke-width="0.8"/>
<polygon points="499.9,349.8 489.1,343.7 489.1,379.0 499.9,385.1" fill="#fff" stroke="#fff" stroke-width="1.1" stroke-linejoin="round"/>
<polygon points="504.7,347.0 499.9,349.8 499.9,385.1 504.7,382.3" fill="#fff" stroke="#fff" stroke-width="1.1" stroke-linejoin="round"/>
<path d="M504.7,382.3L499.9,385.1 M499.9,385.1L489.1,379.0 M489.1,379.0L489.1,343.7 M504.7,382.3L504.7,347.0 M499.9,385.1L499.9,349.8"/>
<path d="M489.1,343.7 L494.0,340.8 L504.7,347.0 L499.9,349.8Z" fill="#fff" fill-rule="evenodd"/>
<polygon points="496.8,350.0 485.0,356.9 485.0,390.2 496.8,383.3" fill="#fff" stroke="#fff" stroke-width="1.1" stroke-linejoin="round"/>
<polygon points="484.3,362.8 471.8,355.7 471.8,389.1 484.3,396.2" fill="#fff" stroke="#fff" stroke-width="1.1" stroke-linejoin="round"/>
<polygon points="489.8,359.6 484.3,362.8 484.3,396.2 489.8,393.0" fill="#fff" stroke="#fff" stroke-width="1.1" stroke-linejoin="round"/>
<path d="M496.8,383.3L485.0,390.2 M489.8,393.0L484.3,396.2 M484.3,396.2L471.8,389.1 M471.8,389.1L471.8,355.7 M496.8,383.3L496.8,350.0 M485.0,390.2L485.0,356.9 M489.8,393.0L489.8,359.6 M484.3,396.2L484.3,362.8"/>
<path d="M471.8,355.7 L489.1,345.6 L496.8,350.0 L485.0,356.9 L489.8,359.6 L484.3,362.8Z" fill="#fff" fill-rule="evenodd"/>
<polygon points="477.3,354.8 487.7,348.7 490.0,350.1 479.6,356.2" fill="none" stroke-width="0.9"/>
<path d="M484.4,372.0 Q484.1,382.0 494.1,386.5" />
<ellipse cx="491.6" cy="379.0" rx="3.2" ry="4.8" transform="rotate(-25 491.6 379.0)" stroke-width="0.9"/>
<ellipse cx="491.6" cy="379.0" rx="1.7" ry="2.8" transform="rotate(-25 491.6 379.0)" stroke-width="0.8"/>
<polygon points="501.8,371.0 488.8,363.5 488.8,389.2 501.8,396.6" fill="#fff" stroke="#fff" stroke-width="1.1" stroke-linejoin="round"/>
<polygon points="510.5,365.9 501.8,371.0 501.8,396.6 510.5,391.6" fill="#fff" stroke="#fff" stroke-width="1.1" stroke-linejoin="round"/>
<path d="M510.5,391.6L501.8,396.6 M501.8,396.6L488.8,389.2 M488.8,389.2L488.8,363.5 M510.5,391.6L510.5,365.9 M501.8,396.6L501.8,371.0"/>
<path d="M488.8,363.5 L497.5,358.5 L510.5,365.9 L501.8,371.0Z" fill="#fff" fill-rule="evenodd"/>
<polygon points="543.5,425.8 502.4,402.4 502.4,406.6 543.5,430.1" fill="#fff" stroke="#fff" stroke-width="1.1" stroke-linejoin="round"/>
<polygon points="546.3,424.2 543.5,425.8 543.5,430.1 546.3,428.4" fill="#fff" stroke="#fff" stroke-width="1.1" stroke-linejoin="round"/>
<path d="M546.3,428.4L543.5,430.1 M543.5,430.1L502.4,406.6 M502.4,406.6L502.4,402.4 M546.3,428.4L546.3,424.2 M543.5,430.1L543.5,425.8"/>
<path d="M502.4,402.4 L505.2,400.8 L546.3,424.2 L543.5,425.8Z" fill="#fff" fill-rule="evenodd"/>
<polygon points="543.1,413.3 543.0,412.5 543.0,423.3 543.1,424.1" fill="#fff" stroke="#fff" stroke-width="1.1" stroke-linejoin="round"/>
<polygon points="568.7,412.4 568.6,413.2 568.6,424.0 568.7,423.2" fill="#fff" stroke="#fff" stroke-width="1.1" stroke-linejoin="round"/>
<polygon points="543.3,414.0 543.1,413.3 543.1,424.1 543.3,424.8" fill="#fff" stroke="#fff" stroke-width="1.1" stroke-linejoin="round"/>
<polygon points="568.6,413.2 568.3,413.9 568.3,424.7 568.6,424.0" fill="#fff" stroke="#fff" stroke-width="1.1" stroke-linejoin="round"/>
<polygon points="543.6,414.7 543.3,414.0 543.3,424.8 543.6,425.6" fill="#fff" stroke="#fff" stroke-width="1.1" stroke-linejoin="round"/>
<polygon points="568.3,413.9 567.9,414.7 567.9,425.5 568.3,424.7" fill="#fff" stroke="#fff" stroke-width="1.1" stroke-linejoin="round"/>
<polygon points="544.1,415.4 543.6,414.7 543.6,425.6 544.1,426.3" fill="#fff" stroke="#fff" stroke-width="1.1" stroke-linejoin="round"/>
<polygon points="567.9,414.7 567.4,415.4 567.4,426.2 567.9,425.5" fill="#fff" stroke="#fff" stroke-width="1.1" stroke-linejoin="round"/>
<polygon points="544.7,416.1 544.1,415.4 544.1,426.3 544.7,426.9" fill="#fff" stroke="#fff" stroke-width="1.1" stroke-linejoin="round"/>
<polygon points="567.4,415.4 566.8,416.0 566.8,426.9 567.4,426.2" fill="#fff" stroke="#fff" stroke-width="1.1" stroke-linejoin="round"/>
<polygon points="545.4,416.8 544.7,416.1 544.7,426.9 545.4,427.6" fill="#fff" stroke="#fff" stroke-width="1.1" stroke-linejoin="round"/>
<polygon points="566.8,416.0 566.0,416.7 566.0,427.5 566.8,426.9" fill="#fff" stroke="#fff" stroke-width="1.1" stroke-linejoin="round"/>
<polygon points="546.3,417.3 545.4,416.8 545.4,427.6 546.3,428.2" fill="#fff" stroke="#fff" stroke-width="1.1" stroke-linejoin="round"/>
<polygon points="566.0,416.7 565.1,417.3 565.1,428.1 566.0,427.5" fill="#fff" stroke="#fff" stroke-width="1.1" stroke-linejoin="round"/>
<polygon points="547.2,417.9 546.3,417.3 546.3,428.2 547.2,428.7" fill="#fff" stroke="#fff" stroke-width="1.1" stroke-linejoin="round"/>
<polygon points="565.1,417.3 564.2,417.8 564.2,428.6 565.1,428.1" fill="#fff" stroke="#fff" stroke-width="1.1" stroke-linejoin="round"/>
<polygon points="548.2,418.3 547.2,417.9 547.2,428.7 548.2,429.2" fill="#fff" stroke="#fff" stroke-width="1.1" stroke-linejoin="round"/>
<polygon points="564.2,417.8 563.1,418.3 563.1,429.1 564.2,428.6" fill="#fff" stroke="#fff" stroke-width="1.1" stroke-linejoin="round"/>
<polygon points="549.3,418.8 548.2,418.3 548.2,429.2 549.3,429.6" fill="#fff" stroke="#fff" stroke-width="1.1" stroke-linejoin="round"/>
<polygon points="563.1,418.3 562.0,418.7 562.0,429.5 563.1,429.1" fill="#fff" stroke="#fff" stroke-width="1.1" stroke-linejoin="round"/>
<polygon points="550.5,419.1 549.3,418.8 549.3,429.6 550.5,429.9" fill="#fff" stroke="#fff" stroke-width="1.1" stroke-linejoin="round"/>
<polygon points="562.0,418.7 560.8,419.1 560.8,429.9 562.0,429.5" fill="#fff" stroke="#fff" stroke-width="1.1" stroke-linejoin="round"/>
<polygon points="551.7,419.4 550.5,419.1 550.5,429.9 551.7,430.2" fill="#fff" stroke="#fff" stroke-width="1.1" stroke-linejoin="round"/>
<polygon points="560.8,419.1 559.5,419.3 559.5,430.1 560.8,429.9" fill="#fff" stroke="#fff" stroke-width="1.1" stroke-linejoin="round"/>
<polygon points="553.0,419.5 551.7,419.4 551.7,430.2 553.0,430.4" fill="#fff" stroke="#fff" stroke-width="1.1" stroke-linejoin="round"/>
<polygon points="559.5,419.3 558.3,419.5 558.3,430.3 559.5,430.1" fill="#fff" stroke="#fff" stroke-width="1.1" stroke-linejoin="round"/>
<polygon points="554.3,419.7 553.0,419.5 553.0,430.4 554.3,430.5" fill="#fff" stroke="#fff" stroke-width="1.1" stroke-linejoin="round"/>
<polygon points="558.3,419.5 556.9,419.6 556.9,430.5 558.3,430.3" fill="#fff" stroke="#fff" stroke-width="1.1" stroke-linejoin="round"/>
<polygon points="555.6,419.7 554.3,419.7 554.3,430.5 555.6,430.5" fill="#fff" stroke="#fff" stroke-width="1.1" stroke-linejoin="round"/>
<polygon points="556.9,419.6 555.6,419.7 555.6,430.5 556.9,430.5" fill="#fff" stroke="#fff" stroke-width="1.1" stroke-linejoin="round"/>
<path d="M568.7,423.2L568.6,424.0 M568.6,424.0L568.3,424.7 M568.3,424.7L567.9,425.5 M567.9,425.5L567.4,426.2 M567.4,426.2L566.8,426.9 M566.8,426.9L566.0,427.5 M566.0,427.5L565.1,428.1 M565.1,428.1L564.2,428.6 M564.2,428.6L563.1,429.1 M563.1,429.1L562.0,429.5 M562.0,429.5L560.8,429.9 M560.8,429.9L559.5,430.1 M559.5,430.1L558.3,430.3 M558.3,430.3L556.9,430.5 M556.9,430.5L555.6,430.5 M555.6,430.5L554.3,430.5 M554.3,430.5L553.0,430.4 M553.0,430.4L551.7,430.2 M551.7,430.2L550.5,429.9 M550.5,429.9L549.3,429.6 M549.3,429.6L548.2,429.2 M548.2,429.2L547.2,428.7 M547.2,428.7L546.3,428.2 M546.3,428.2L545.4,427.6 M545.4,427.6L544.7,426.9 M544.7,426.9L544.1,426.3 M544.1,426.3L543.6,425.6 M543.6,425.6L543.3,424.8 M543.3,424.8L543.1,424.1 M543.1,424.1L543.0,423.3 M568.7,423.2L568.7,412.4 M543.0,423.3L543.0,412.5"/>
<path d="M565.0,406.9 L565.9,407.5 L566.7,408.1 L567.3,408.7 L567.9,409.4 L568.3,410.1 L568.6,410.9 L568.7,411.6 L568.7,412.4 L568.6,413.2 L568.3,413.9 L567.9,414.7 L567.4,415.4 L566.8,416.0 L566.0,416.7 L565.1,417.3 L564.2,417.8 L563.1,418.3 L562.0,418.7 L560.8,419.1 L559.5,419.3 L558.3,419.5 L556.9,419.6 L555.6,419.7 L554.3,419.7 L553.0,419.5 L551.7,419.4 L550.5,419.1 L549.3,418.8 L548.2,418.3 L547.2,417.9 L546.3,417.3 L545.4,416.8 L544.7,416.1 L544.1,415.4 L543.6,414.7 L543.3,414.0 L543.1,413.3 L543.0,412.5 L543.1,411.7 L543.3,411.0 L543.6,410.2 L544.0,409.5 L544.6,408.8 L545.3,408.1 L546.1,407.5 L547.1,407.0 L548.1,406.4 L549.2,406.0 L550.3,405.6 L551.6,405.3 L552.8,405.1 L554.1,404.9 L555.4,404.8 L556.8,404.8 L558.1,404.9 L559.4,405.0 L560.6,405.3 L561.8,405.6 L563.0,406.0 L564.0,406.4Z" fill="#fff" fill-rule="evenodd"/>
<polygon points="541.9,401.1 499.7,376.8 499.7,396.2 541.9,420.5" fill="#fff" stroke="#fff" stroke-width="1.1" stroke-linejoin="round"/>
<polygon points="575.5,392.9 575.4,394.1 575.4,413.5 575.5,412.3" fill="#fff" stroke="#fff" stroke-width="1.1" stroke-linejoin="round"/>
<polygon points="575.4,394.1 575.0,395.2 575.0,414.6 575.4,413.5" fill="#fff" stroke="#fff" stroke-width="1.1" stroke-linejoin="round"/>
<polygon points="575.0,395.2 574.5,396.3 574.5,415.7 575.0,414.6" fill="#fff" stroke="#fff" stroke-width="1.1" stroke-linejoin="round"/>
<polygon points="574.5,396.3 573.7,397.4 573.7,416.8 574.5,415.7" fill="#fff" stroke="#fff" stroke-width="1.1" stroke-linejoin="round"/>
<polygon points="573.7,397.4 572.8,398.4 572.8,417.8 573.7,416.8" fill="#fff" stroke="#fff" stroke-width="1.1" stroke-linejoin="round"/>
<polygon points="572.8,398.4 571.7,399.4 571.7,418.8 572.8,417.8" fill="#fff" stroke="#fff" stroke-width="1.1" stroke-linejoin="round"/>
<polygon points="571.7,399.4 570.4,400.3 570.4,419.7 571.7,418.8" fill="#fff" stroke="#fff" stroke-width="1.1" stroke-linejoin="round"/>
<polygon points="570.4,400.3 569.0,401.2 569.0,420.6 570.4,419.7" fill="#fff" stroke="#fff" stroke-width="1.1" stroke-linejoin="round"/>
<polygon points="543.3,401.8 541.9,401.1 541.9,420.5 543.3,421.2" fill="#fff" stroke="#fff" stroke-width="1.1" stroke-linejoin="round"/>
<polygon points="569.0,401.2 567.4,401.9 567.4,421.3 569.0,420.6" fill="#fff" stroke="#fff" stroke-width="1.1" stroke-linejoin="round"/>
<polygon points="544.9,402.5 543.3,401.8 543.3,421.2 544.9,421.9" fill="#fff" stroke="#fff" stroke-width="1.1" stroke-linejoin="round"/>
<polygon points="567.4,401.9 565.7,402.6 565.7,422.0 567.4,421.3" fill="#fff" stroke="#fff" stroke-width="1.1" stroke-linejoin="round"/>
<polygon points="546.6,403.0 544.9,402.5 544.9,421.9 546.6,422.4" fill="#fff" stroke="#fff" stroke-width="1.1" stroke-linejoin="round"/>
<polygon points="565.7,402.6 564.0,403.1 564.0,422.5 565.7,422.0" fill="#fff" stroke="#fff" stroke-width="1.1" stroke-linejoin="round"/>
<polygon points="548.5,403.5 546.6,403.0 546.6,422.4 548.5,422.9" fill="#fff" stroke="#fff" stroke-width="1.1" stroke-linejoin="round"/>
<polygon points="564.0,403.1 562.1,403.6 562.1,423.0 564.0,422.5" fill="#fff" stroke="#fff" stroke-width="1.1" stroke-linejoin="round"/>
<polygon points="550.3,403.9 548.5,403.5 548.5,422.9 550.3,423.3" fill="#fff" stroke="#fff" stroke-width="1.1" stroke-linejoin="round"/>
<polygon points="562.1,403.6 560.2,403.9 560.2,423.3 562.1,423.0" fill="#fff" stroke="#fff" stroke-width="1.1" stroke-linejoin="round"/>
<polygon points="552.3,404.1 550.3,403.9 550.3,423.3 552.3,423.5" fill="#fff" stroke="#fff" stroke-width="1.1" stroke-linejoin="round"/>
<polygon points="560.2,403.9 558.2,404.1 558.2,423.5 560.2,423.3" fill="#fff" stroke="#fff" stroke-width="1.1" stroke-linejoin="round"/>
<polygon points="554.3,404.2 552.3,404.1 552.3,423.5 554.3,423.6" fill="#fff" stroke="#fff" stroke-width="1.1" stroke-linejoin="round"/>
<polygon points="558.2,404.1 556.2,404.2 556.2,423.6 558.2,423.5" fill="#fff" stroke="#fff" stroke-width="1.1" stroke-linejoin="round"/>
<polygon points="556.2,404.2 554.3,404.2 554.3,423.6 556.2,423.6" fill="#fff" stroke="#fff" stroke-width="1.1" stroke-linejoin="round"/>
<path d="M575.5,412.3L575.4,413.5 M575.4,413.5L575.0,414.6 M575.0,414.6L574.5,415.7 M574.5,415.7L573.7,416.8 M573.7,416.8L572.8,417.8 M572.8,417.8L571.7,418.8 M571.7,418.8L570.4,419.7 M570.4,419.7L569.0,420.6 M569.0,420.6L567.4,421.3 M567.4,421.3L565.7,422.0 M565.7,422.0L564.0,422.5 M564.0,422.5L562.1,423.0 M562.1,423.0L560.2,423.3 M560.2,423.3L558.2,423.5 M558.2,423.5L556.2,423.6 M556.2,423.6L554.3,423.6 M554.3,423.6L552.3,423.5 M552.3,423.5L550.3,423.3 M550.3,423.3L548.5,422.9 M548.5,422.9L546.6,422.4 M546.6,422.4L544.9,421.9 M544.9,421.9L543.3,421.2 M543.3,421.2L541.9,420.5 M541.9,420.5L499.7,396.2 M499.7,396.2L499.7,376.8 M575.5,412.3L575.5,392.9"/>
<path d="M499.7,376.8 L528.2,360.1 L569.9,384.7 L571.2,385.5 L572.4,386.4 L573.4,387.4 L574.2,388.4 L574.8,389.5 L575.3,390.6 L575.5,391.8 L575.5,392.9 L575.4,394.1 L575.0,395.2 L574.5,396.3 L573.7,397.4 L572.8,398.4 L571.7,399.4 L570.4,400.3 L569.0,401.2 L567.4,401.9 L565.7,402.6 L564.0,403.1 L562.1,403.6 L560.2,403.9 L558.2,404.1 L556.2,404.2 L554.3,404.2 L552.3,404.1 L550.3,403.9 L548.5,403.5 L546.6,403.0 L544.9,402.5 L543.3,401.8 L541.9,401.1Z" fill="#fff" fill-rule="evenodd"/>
<line x1="541.9" y1="420.5" x2="541.9" y2="401.1" stroke-width="0.9"/>
<polyline points="499.7,389.5 541.9,413.8"/>
<polyline points="541.9,410.3 543.3,411.0 544.9,411.7 546.7,412.3 548.5,412.7 550.4,413.1 552.3,413.3 554.3,413.4 556.3,413.5 558.3,413.3 560.3,413.1 562.2,412.8 564.1,412.3 565.8,411.8 567.5,411.1 569.0,410.3 570.5,409.5 571.7,408.6 572.8,407.6 573.8,406.6 574.5,405.5 575.0,404.4 575.4,403.2 575.5,402.1"/>
<clipPath id="ch68"><polygon points="504.4,376.4 507.1,377.9 510.3,377.2 512.4,378.4 511.2,380.3 513.6,381.6 516.9,380.9 518.9,382.1 517.7,384.0 520.1,385.4 523.4,384.6 525.4,385.8 524.2,387.7 526.6,389.1 529.9,388.4 531.9,389.5 530.7,391.4 531.5,391.8 554.8,378.2 552.7,377.0 549.5,377.7 547.4,376.6 548.6,374.7 545.5,372.9 542.3,373.6 540.2,372.5 541.4,370.6 538.3,368.8 535.1,369.5 533.0,368.4 534.2,366.5 527.6,362.7"/></clipPath>
<g clip-path="url(#ch68)">
<polygon points="504.4,376.4 507.1,377.9 510.3,377.2 512.4,378.4 511.2,380.3 513.6,381.6 516.9,380.9 518.9,382.1 517.7,384.0 520.1,385.4 523.4,384.6 525.4,385.8 524.2,387.7 526.6,389.1 529.9,388.4 531.9,389.5 530.7,391.4 531.5,391.8 554.8,378.2 552.7,377.0 549.5,377.7 547.4,376.6 548.6,374.7 545.5,372.9 542.3,373.6 540.2,372.5 541.4,370.6 538.3,368.8 535.1,369.5 533.0,368.4 534.2,366.5 527.6,362.7" fill="#fff" stroke="none"/>
<polygon points="534.2,366.5 527.6,362.7 527.6,370.4 534.2,374.2" fill="#fff" stroke="#fff" stroke-width="1.1" stroke-linejoin="round"/>
<polygon points="535.1,369.5 533.0,368.4 533.0,376.1 535.1,377.2" fill="#fff" stroke="#fff" stroke-width="1.1" stroke-linejoin="round"/>
<polygon points="538.3,368.8 535.1,369.5 535.1,377.2 538.3,376.5" fill="#fff" stroke="#fff" stroke-width="1.1" stroke-linejoin="round"/>
<polygon points="527.6,362.7 504.4,376.4 504.4,384.1 527.6,370.4" fill="#fff" stroke="#fff" stroke-width="1.1" stroke-linejoin="round"/>
<polygon points="541.4,370.6 538.3,368.8 538.3,376.5 541.4,378.3" fill="#fff" stroke="#fff" stroke-width="1.1" stroke-linejoin="round"/>
<polygon points="542.3,373.6 540.2,372.5 540.2,380.2 542.3,381.3" fill="#fff" stroke="#fff" stroke-width="1.1" stroke-linejoin="round"/>
<polygon points="545.5,372.9 542.3,373.6 542.3,381.3 545.5,380.6" fill="#fff" stroke="#fff" stroke-width="1.1" stroke-linejoin="round"/>
<polygon points="548.6,374.7 545.5,372.9 545.5,380.6 548.6,382.4" fill="#fff" stroke="#fff" stroke-width="1.1" stroke-linejoin="round"/>
<polygon points="549.5,377.7 547.4,376.6 547.4,384.3 549.5,385.5" fill="#fff" stroke="#fff" stroke-width="1.1" stroke-linejoin="round"/>
<polygon points="552.7,377.0 549.5,377.7 549.5,385.5 552.7,384.7" fill="#fff" stroke="#fff" stroke-width="1.1" stroke-linejoin="round"/>
<polygon points="554.8,378.2 552.7,377.0 552.7,384.7 554.8,385.9" fill="#fff" stroke="#fff" stroke-width="1.1" stroke-linejoin="round"/>
<polygon points="512.4,378.4 511.2,380.3 511.2,388.0 512.4,386.1" fill="#fff" stroke="#fff" stroke-width="1.1" stroke-linejoin="round"/>
<polygon points="518.9,382.1 517.7,384.0 517.7,391.7 518.9,389.8" fill="#fff" stroke="#fff" stroke-width="1.1" stroke-linejoin="round"/>
<polygon points="525.4,385.8 524.2,387.7 524.2,395.4 525.4,393.5" fill="#fff" stroke="#fff" stroke-width="1.1" stroke-linejoin="round"/>
<polygon points="531.9,389.5 530.7,391.4 530.7,399.1 531.9,397.2" fill="#fff" stroke="#fff" stroke-width="1.1" stroke-linejoin="round"/>
<path d="M512.4,386.1L511.2,388.0 M512.4,378.4L511.2,380.3 M518.9,389.8L517.7,391.7 M518.9,382.1L517.7,384.0 M525.4,393.5L524.2,395.4 M525.4,385.8L524.2,387.7 M531.9,397.2L530.7,399.1 M531.9,389.5L530.7,391.4 M554.8,385.9L552.7,384.7 M554.8,378.2L552.7,377.0 M552.7,384.7L549.5,385.5 M552.7,377.0L549.5,377.7 M549.5,385.5L547.4,384.3 M549.5,377.7L547.4,376.6 M548.6,382.4L545.5,380.6 M548.6,374.7L545.5,372.9 M545.5,380.6L542.3,381.3 M545.5,372.9L542.3,373.6 M542.3,381.3L540.2,380.2 M542.3,373.6L540.2,372.5 M541.4,378.3L538.3,376.5 M541.4,370.6L538.3,368.8 M538.3,376.5L535.1,377.2 M538.3,368.8L535.1,369.5 M535.1,377.2L533.0,376.1 M535.1,369.5L533.0,368.4 M534.2,374.2L527.6,370.4 M534.2,366.5L527.6,362.7 M527.6,370.4L504.4,384.1 M527.6,362.7L504.4,376.4 M504.4,384.1L504.4,376.4 M512.4,386.1L512.4,378.4 M511.2,388.0L511.2,380.3 M518.9,389.8L518.9,382.1 M517.7,391.7L517.7,384.0 M525.4,393.5L525.4,385.8 M524.2,395.4L524.2,387.7 M531.9,397.2L531.9,389.5 M530.7,399.1L530.7,391.4 M554.8,385.9L554.8,378.2 M552.7,384.7L552.7,377.0 M549.5,385.5L549.5,377.7 M547.4,384.3L547.4,376.6 M548.6,382.4L548.6,374.7 M545.5,380.6L545.5,372.9 M542.3,381.3L542.3,373.6 M540.2,380.2L540.2,372.5 M541.4,378.3L541.4,370.6 M538.3,376.5L538.3,368.8 M535.1,377.2L535.1,369.5 M533.0,376.1L533.0,368.4 M534.2,374.2L534.2,366.5 M527.6,370.4L527.6,362.7"/>
<polyline points="521.4,384.5 524.8,381.7 528.2,384.0 531.7,381.6 535.1,383.9 539.3,384.7" stroke-width="0.9"/>
<line x1="528.1" y1="394.4" x2="545.8" y2="384.0" stroke-width="0.9"/>
<line x1="530.1" y1="395.6" x2="547.9" y2="385.2" stroke-width="0.9"/>
</g>
<polygon points="504.4,376.4 507.1,377.9 510.3,377.2 512.4,378.4 511.2,380.3 513.6,381.6 516.9,380.9 518.9,382.1 517.7,384.0 520.1,385.4 523.4,384.6 525.4,385.8 524.2,387.7 526.6,389.1 529.9,388.4 531.9,389.5 530.7,391.4 531.5,391.8 554.8,378.2 552.7,377.0 549.5,377.7 547.4,376.6 548.6,374.7 545.5,372.9 542.3,373.6 540.2,372.5 541.4,370.6 538.3,368.8 535.1,369.5 533.0,368.4 534.2,366.5 527.6,362.7"/>
<polygon points="541.6,389.1 532.7,384.0 532.7,388.9 541.6,394.0" fill="#fff" stroke="#fff" stroke-width="1.1" stroke-linejoin="round"/>
<polygon points="547.8,385.5 541.6,389.1 541.6,394.0 547.8,390.4" fill="#fff" stroke="#fff" stroke-width="1.1" stroke-linejoin="round"/>
<path d="M547.8,390.4L541.6,394.0 M541.6,394.0L532.7,388.9 M532.7,388.9L532.7,384.0 M547.8,390.4L547.8,385.5 M541.6,394.0L541.6,389.1"/>
<path d="M532.7,384.0 L538.9,380.4 L547.8,385.5 L541.6,389.1Z" fill="#fff" fill-rule="evenodd"/>
<polygon points="498.3,374.1 525.4,358.2 526.6,360.5 499.7,376.7" fill="#fff"/>
<path d="M498.5,375.6 l3.6,8.2 M500.7,375.7 l3.4,7.6" stroke-width="0.9"/>
<path d="M525.6,359.7 l3.6,8.2 M527.8,359.8 l3.4,7.6" stroke-width="0.9"/>
<path d="M509.0,368.9 q1.5,6.5 6.5,12 M511.7,367.5 q1.6,6.5 6.8,11.6" stroke-width="0.9"/>
<polygon points="569.9,384.7 571.2,385.5 572.4,386.4 573.4,387.4 574.2,388.5 574.9,389.6 575.3,390.7 575.5,391.9 575.5,393.1 575.3,394.3 574.9,395.4 574.3,396.5 573.5,397.6 572.5,398.7 571.4,399.6 570.1,400.5 568.6,401.4 567.0,402.1 565.2,402.7 563.4,403.3 561.5,403.7 559.5,404.0 557.5,404.2 555.5,404.2 553.5,404.2 551.5,404.0 549.5,403.7 547.6,403.3 545.8,402.8 544.2,402.2 542.6,401.5 541.2,400.6 539.9,399.7 538.8,398.8 537.9,397.7 537.2,396.7 536.6,395.5 536.3,394.4 536.2,393.2 536.3,392.0 536.6,390.9 537.1,389.7 537.8,388.6 538.7,387.6 539.7,386.6 541.0,385.6 542.4,384.7 543.9,384.0 545.6,383.3 547.4,382.7 549.3,382.2 551.2,381.9 553.2,381.6 555.2,381.5 557.2,381.5 559.3,381.6 561.2,381.8 563.1,382.2 565.0,382.6 566.7,383.2 568.4,383.9 569.9,384.7" fill="#fff"/>
<polygon points="567.2,386.2 568.2,386.9 569.2,387.7 570.0,388.5 570.7,389.3 571.2,390.2 571.5,391.2 571.7,392.1 571.7,393.0 571.6,394.0 571.3,394.9 570.8,395.8 570.1,396.7 569.3,397.5 568.4,398.3 567.3,399.1 566.1,399.7 564.8,400.3 563.4,400.8 562.0,401.3 560.4,401.6 558.8,401.8 557.2,402.0 555.6,402.0 553.9,402.0 552.3,401.9 550.8,401.6 549.2,401.3 547.8,400.9 546.4,400.4 545.2,399.8 544.0,399.1 543.0,398.4 542.1,397.6 541.4,396.8 540.8,395.9 540.3,395.0 540.1,394.1 540.0,393.1 540.1,392.2 540.3,391.3 540.7,390.3 541.3,389.4 542.0,388.6 542.9,387.8 543.9,387.0 545.0,386.3 546.2,385.7 547.6,385.1 549.0,384.7 550.5,384.3 552.1,384.0 553.7,383.8 555.3,383.7 557.0,383.7 558.6,383.8 560.2,384.0 561.7,384.2 563.2,384.6 564.6,385.1 566.0,385.6 567.2,386.2" fill="#fff"/>
<polyline points="542.8,399.5 542.0,398.8 541.3,397.9 540.7,397.1 540.3,396.2 540.1,395.3 540.0,394.4 540.1,393.4 540.3,392.5 540.7,391.6 541.2,390.7 541.9,389.9 542.8,389.1 543.8,388.4 544.9,387.7 546.1,387.0 547.4,386.5 548.8,386.0 550.2,385.6 551.7,385.3 553.3,385.1 554.9,385.0 556.5,384.9 558.1,385.0 559.7,385.2 561.2,385.4 562.7,385.7" stroke-width="0.9"/>
<polygon points="565.8,386.2 566.8,386.8 567.6,387.5 568.4,388.2 569.0,389.0 569.4,389.7 569.7,390.6 569.9,391.4 569.9,392.2 569.7,393.1 569.5,393.9 569.0,394.7 568.5,395.5 567.8,396.2 566.9,396.9 566.0,397.5 564.9,398.1 563.8,398.6 562.5,399.1 561.2,399.5 559.9,399.8 558.5,400.0 557.0,400.1 555.6,400.2 554.2,400.1 552.7,400.0 551.3,399.8 550.0,399.5 548.7,399.1 547.5,398.7 546.4,398.2 545.4,397.6 544.5,397.0 543.7,396.3 543.0,395.5 542.5,394.8 542.1,394.0 541.9,393.2 541.8,392.3 541.9,391.5 542.1,390.7 542.5,389.8 543.0,389.0 543.6,388.3 544.4,387.6 545.3,386.9 546.3,386.3 547.4,385.7 548.6,385.2 549.8,384.8 551.2,384.5 552.5,384.2 554.0,384.0 555.4,384.0 556.8,384.0 558.3,384.0 559.7,384.2 561.1,384.4 562.4,384.8 563.6,385.2 564.8,385.7 565.8,386.2" fill="#fff"/>
<path d="M554.7,391.1 L553.3,399.7 M557.2,391.1 L556.5,400.1" stroke-width="1.3" stroke="#111"/>
<path d="M555.5,390.6 l-1,-5.5 m2.4,5 l2.2,-4.8 M553.9,390.5 l-5.2,-2.6 m9.6,3 l5.6,-2" stroke-width="0.9"/>
<ellipse cx="552.3" cy="388.9" rx="2.4" ry="1.7" stroke-width="0.9"/>
<ellipse cx="559.9" cy="389.1" rx="2.4" ry="1.7" stroke-width="0.9"/>
<ellipse cx="555.9" cy="390.5" rx="6.2" ry="4.3" stroke-width="0.8"/>
</g>
</svg>
<div class="title">413+T04-03S</div>
<div class="frame"></div>
</body></html>
